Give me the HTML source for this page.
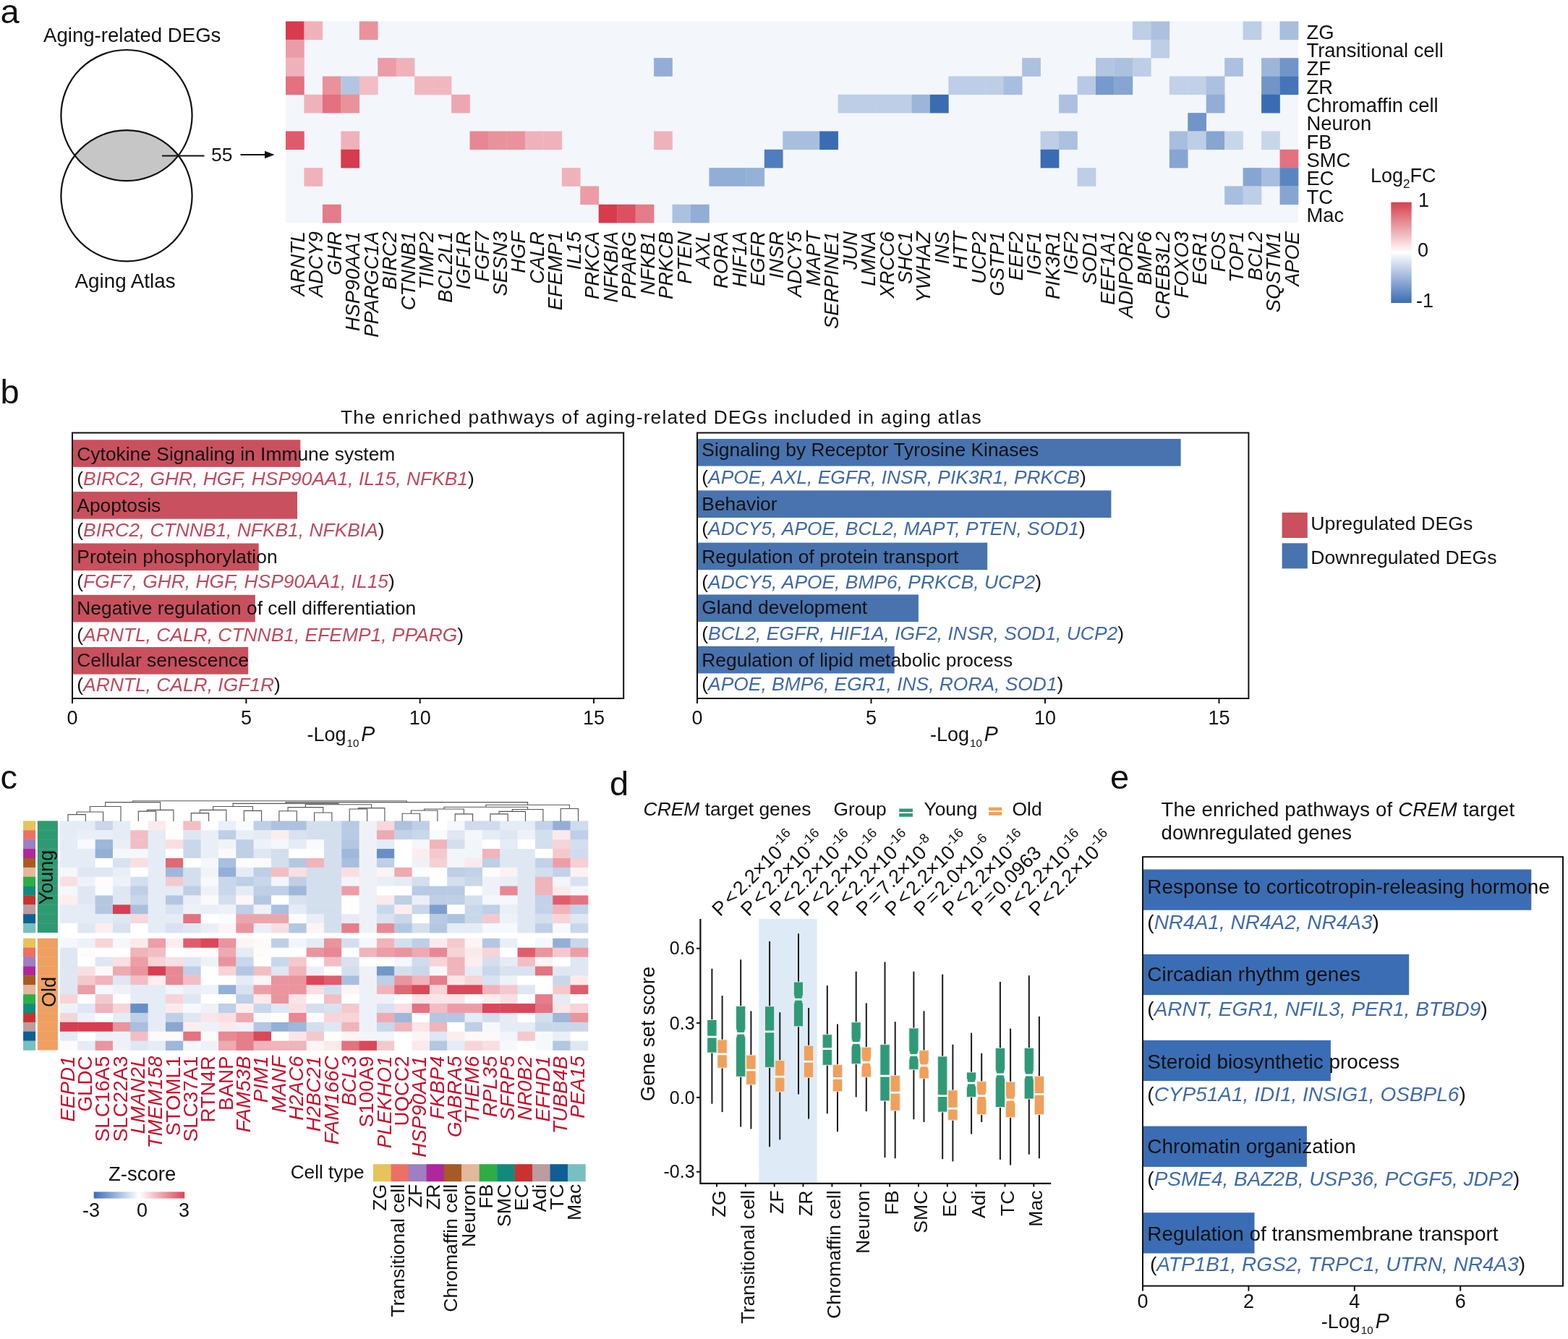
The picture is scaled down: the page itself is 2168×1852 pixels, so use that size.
<!DOCTYPE html>
<html><head><meta charset="utf-8"><title>Aging atlas figure</title>
<style>html,body{margin:0;padding:0;background:#fff;width:2168px;height:1852px;overflow:hidden}</style>
</head><body>
<svg width="2168" height="1852" viewBox="0 0 2168 1852" style="display:block;font-family:'Liberation Sans',Arial,Helvetica,sans-serif"><g fill="#111"><text x="0.5" y="31.8" font-size="47" >a</text>
<text x="0.5" y="558.0" font-size="47" >b</text>
<text x="0.5" y="1091.4" font-size="47" >c</text>
<text x="843.0" y="1100.0" font-size="47" >d</text>
<text x="1535.0" y="1091.0" font-size="47" >e</text>
<text x="60.0" y="58.0" font-size="27.6" >Aging-related DEGs</text>
<text x="103.5" y="398.0" font-size="27.8" >Aging Atlas</text>
<path d="M103.43,215.15 A90.6,90.6 0 0 1 246.57,215.15 A90.6,90.6 0 0 1 103.43,215.15 Z" fill="#c6c6c6"/>
<circle cx="175" cy="159.6" r="90.6" fill="none" stroke="#111" stroke-width="2.2"/>
<circle cx="175" cy="270.7" r="90.6" fill="none" stroke="#111" stroke-width="2.2"/>
<line x1="224" y1="215.5" x2="282.5" y2="215.5" stroke="#111" stroke-width="2"/>
<text x="292.0" y="222.6" font-size="26.5" >55</text>
<line x1="332.5" y1="214" x2="372" y2="214" stroke="#111" stroke-width="2"/>
<polygon points="366,208.8 379.5,214 366,219.2" fill="#111"/>
<rect x="395.0" y="29.5" width="1400.00" height="278.60" fill="#f3f6fa"/>
<rect x="395.00" y="29.50" width="25.75" height="25.63" fill="#d83a4e"/>
<rect x="420.45" y="29.50" width="25.75" height="25.63" fill="#f0b2ba"/>
<rect x="496.82" y="29.50" width="25.75" height="25.63" fill="#ea929c"/>
<rect x="395.00" y="54.83" width="25.75" height="25.63" fill="#ec9ca6"/>
<rect x="395.00" y="80.15" width="25.75" height="25.63" fill="#f0b2ba"/>
<rect x="522.27" y="80.15" width="25.75" height="25.63" fill="#ec9ca6"/>
<rect x="547.73" y="80.15" width="25.75" height="25.63" fill="#f0b2ba"/>
<rect x="395.00" y="105.48" width="25.75" height="25.63" fill="#e3717f"/>
<rect x="445.91" y="105.48" width="25.75" height="25.63" fill="#ea929c"/>
<rect x="471.36" y="105.48" width="25.75" height="25.63" fill="#b2c6e2"/>
<rect x="496.82" y="105.48" width="25.75" height="25.63" fill="#f2bdc4"/>
<rect x="573.18" y="105.48" width="25.75" height="25.63" fill="#f1b7be"/>
<rect x="598.64" y="105.48" width="25.75" height="25.63" fill="#f1b7be"/>
<rect x="420.45" y="130.81" width="25.75" height="25.63" fill="#f0b2ba"/>
<rect x="445.91" y="130.81" width="25.75" height="25.63" fill="#e3717f"/>
<rect x="471.36" y="130.81" width="25.75" height="25.63" fill="#ea929c"/>
<rect x="624.09" y="130.81" width="25.75" height="25.63" fill="#eea7b0"/>
<rect x="395.00" y="181.46" width="25.75" height="25.63" fill="#df5b6b"/>
<rect x="471.36" y="181.46" width="25.75" height="25.63" fill="#f0b2ba"/>
<rect x="649.55" y="181.46" width="25.75" height="25.63" fill="#e78793"/>
<rect x="675.00" y="181.46" width="25.75" height="25.63" fill="#ea929c"/>
<rect x="700.45" y="181.46" width="25.75" height="25.63" fill="#ea929c"/>
<rect x="725.91" y="181.46" width="25.75" height="25.63" fill="#f0b2ba"/>
<rect x="751.36" y="181.46" width="25.75" height="25.63" fill="#f0b2ba"/>
<rect x="471.36" y="206.79" width="25.75" height="25.63" fill="#d83a4e"/>
<rect x="420.45" y="232.12" width="25.75" height="25.63" fill="#f0b2ba"/>
<rect x="776.82" y="232.12" width="25.75" height="25.63" fill="#f0b2ba"/>
<rect x="445.91" y="282.77" width="25.75" height="25.63" fill="#e57c89"/>
<rect x="802.27" y="257.45" width="25.75" height="25.63" fill="#ec9ca6"/>
<rect x="827.73" y="282.77" width="25.75" height="25.63" fill="#d83a4e"/>
<rect x="853.18" y="282.77" width="25.75" height="25.63" fill="#dd5061"/>
<rect x="878.64" y="282.77" width="25.75" height="25.63" fill="#e57c89"/>
<rect x="904.09" y="80.15" width="25.75" height="25.63" fill="#92aed6"/>
<rect x="904.09" y="181.46" width="25.75" height="25.63" fill="#f0b2ba"/>
<rect x="929.55" y="282.77" width="25.75" height="25.63" fill="#acc1df"/>
<rect x="955.00" y="282.77" width="25.75" height="25.63" fill="#92aed6"/>
<rect x="980.45" y="232.12" width="25.75" height="25.63" fill="#92aed6"/>
<rect x="1005.91" y="232.12" width="25.75" height="25.63" fill="#92aed6"/>
<rect x="1031.36" y="232.12" width="25.75" height="25.63" fill="#96b1d7"/>
<rect x="1056.82" y="206.79" width="25.75" height="25.63" fill="#507dbd"/>
<rect x="1082.27" y="181.46" width="25.75" height="25.63" fill="#a7bede"/>
<rect x="1107.73" y="181.46" width="25.75" height="25.63" fill="#a7bede"/>
<rect x="1133.18" y="181.46" width="25.75" height="25.63" fill="#3a6cb4"/>
<rect x="1158.64" y="130.81" width="25.75" height="25.63" fill="#bdcee6"/>
<rect x="1184.09" y="130.81" width="25.75" height="25.63" fill="#bdcee6"/>
<rect x="1209.55" y="130.81" width="25.75" height="25.63" fill="#bdcee6"/>
<rect x="1235.00" y="130.81" width="25.75" height="25.63" fill="#bdcee6"/>
<rect x="1260.45" y="130.81" width="25.75" height="25.63" fill="#9cb6da"/>
<rect x="1285.91" y="130.81" width="25.75" height="25.63" fill="#3a6cb4"/>
<rect x="1311.36" y="105.48" width="25.75" height="25.63" fill="#bdcee6"/>
<rect x="1336.82" y="105.48" width="25.75" height="25.63" fill="#bdcee6"/>
<rect x="1362.27" y="105.48" width="25.75" height="25.63" fill="#bdcee6"/>
<rect x="1387.73" y="105.48" width="25.75" height="25.63" fill="#a7bede"/>
<rect x="1413.18" y="80.15" width="25.75" height="25.63" fill="#acc1df"/>
<rect x="1438.64" y="181.46" width="25.75" height="25.63" fill="#bdcee6"/>
<rect x="1438.64" y="206.79" width="25.75" height="25.63" fill="#3a6cb4"/>
<rect x="1464.09" y="130.81" width="25.75" height="25.63" fill="#acc1df"/>
<rect x="1464.09" y="181.46" width="25.75" height="25.63" fill="#acc1df"/>
<rect x="1489.55" y="105.48" width="25.75" height="25.63" fill="#b7c9e4"/>
<rect x="1489.55" y="232.12" width="25.75" height="25.63" fill="#bdcee6"/>
<rect x="1515.00" y="80.15" width="25.75" height="25.63" fill="#b2c6e2"/>
<rect x="1515.00" y="105.48" width="25.75" height="25.63" fill="#779acc"/>
<rect x="1540.45" y="80.15" width="25.75" height="25.63" fill="#acc1df"/>
<rect x="1540.45" y="105.48" width="25.75" height="25.63" fill="#87a5d1"/>
<rect x="1565.91" y="29.50" width="25.75" height="25.63" fill="#bdcee6"/>
<rect x="1565.91" y="80.15" width="25.75" height="25.63" fill="#bdcee6"/>
<rect x="1591.36" y="29.50" width="25.75" height="25.63" fill="#acc1df"/>
<rect x="1591.36" y="54.83" width="25.75" height="25.63" fill="#bdcee6"/>
<rect x="1616.82" y="105.48" width="25.75" height="25.63" fill="#c2d1e8"/>
<rect x="1616.82" y="181.46" width="25.75" height="25.63" fill="#a7bede"/>
<rect x="1616.82" y="206.79" width="25.75" height="25.63" fill="#87a5d1"/>
<rect x="1642.27" y="105.48" width="25.75" height="25.63" fill="#c2d1e8"/>
<rect x="1642.27" y="156.14" width="25.75" height="25.63" fill="#7195c9"/>
<rect x="1642.27" y="181.46" width="25.75" height="25.63" fill="#bdcee6"/>
<rect x="1667.73" y="105.48" width="25.75" height="25.63" fill="#acc1df"/>
<rect x="1667.73" y="130.81" width="25.75" height="25.63" fill="#92aed6"/>
<rect x="1667.73" y="181.46" width="25.75" height="25.63" fill="#87a5d1"/>
<rect x="1693.18" y="80.15" width="25.75" height="25.63" fill="#acc1df"/>
<rect x="1693.18" y="181.46" width="25.75" height="25.63" fill="#c8d6ea"/>
<rect x="1693.18" y="257.45" width="25.75" height="25.63" fill="#a7bede"/>
<rect x="1718.64" y="29.50" width="25.75" height="25.63" fill="#bdcee6"/>
<rect x="1718.64" y="232.12" width="25.75" height="25.63" fill="#87a5d1"/>
<rect x="1718.64" y="257.45" width="25.75" height="25.63" fill="#bdcee6"/>
<rect x="1744.09" y="80.15" width="25.75" height="25.63" fill="#9cb6da"/>
<rect x="1744.09" y="105.48" width="25.75" height="25.63" fill="#7195c9"/>
<rect x="1744.09" y="130.81" width="25.75" height="25.63" fill="#3a6cb4"/>
<rect x="1744.09" y="181.46" width="25.75" height="25.63" fill="#c8d6ea"/>
<rect x="1744.09" y="232.12" width="25.75" height="25.63" fill="#a7bede"/>
<rect x="1769.55" y="29.50" width="25.75" height="25.63" fill="#a7bede"/>
<rect x="1769.55" y="80.15" width="25.75" height="25.63" fill="#7195c9"/>
<rect x="1769.55" y="105.48" width="25.75" height="25.63" fill="#4574b8"/>
<rect x="1769.55" y="206.79" width="25.75" height="25.63" fill="#e3717f"/>
<rect x="1769.55" y="232.12" width="25.75" height="25.63" fill="#5b85c1"/>
<rect x="1769.55" y="257.45" width="25.75" height="25.63" fill="#87a5d1"/>
<text x="1806.5" y="53.8" font-size="27.4" >ZG</text>
<text x="1806.5" y="79.1" font-size="27.4" >Transitional cell</text>
<text x="1806.5" y="104.4" font-size="27.4" >ZF</text>
<text x="1806.5" y="129.7" font-size="27.4" >ZR</text>
<text x="1806.5" y="155.1" font-size="27.4" >Chromaffin cell</text>
<text x="1806.5" y="180.4" font-size="27.4" >Neuron</text>
<text x="1806.5" y="205.7" font-size="27.4" >FB</text>
<text x="1806.5" y="231.1" font-size="27.4" >SMC</text>
<text x="1806.5" y="256.4" font-size="27.4" >EC</text>
<text x="1806.5" y="281.7" font-size="27.4" >TC</text>
<text x="1806.5" y="307.0" font-size="27.4" >Mac</text>
<text transform="translate(420.9,320) rotate(-90)" text-anchor="end" font-size="27.3" font-style="italic">ARNTL</text><text transform="translate(446.4,320) rotate(-90)" text-anchor="end" font-size="27.3" font-style="italic">ADCY9</text><text transform="translate(471.8,320) rotate(-90)" text-anchor="end" font-size="27.3" font-style="italic">GHR</text><text transform="translate(497.3,320) rotate(-90)" text-anchor="end" font-size="27.3" font-style="italic">HSP90AA1</text><text transform="translate(522.7,320) rotate(-90)" text-anchor="end" font-size="27.3" font-style="italic">PPARGC1A</text><text transform="translate(548.2,320) rotate(-90)" text-anchor="end" font-size="27.3" font-style="italic">BIRC2</text><text transform="translate(573.7,320) rotate(-90)" text-anchor="end" font-size="27.3" font-style="italic">CTNNB1</text><text transform="translate(599.1,320) rotate(-90)" text-anchor="end" font-size="27.3" font-style="italic">TIMP2</text><text transform="translate(624.6,320) rotate(-90)" text-anchor="end" font-size="27.3" font-style="italic">BCL2L1</text><text transform="translate(650.0,320) rotate(-90)" text-anchor="end" font-size="27.3" font-style="italic">IGF1R</text><text transform="translate(675.5,320) rotate(-90)" text-anchor="end" font-size="27.3" font-style="italic">FGF7</text><text transform="translate(700.9,320) rotate(-90)" text-anchor="end" font-size="27.3" font-style="italic">SESN3</text><text transform="translate(726.4,320) rotate(-90)" text-anchor="end" font-size="27.3" font-style="italic">HGF</text><text transform="translate(751.8,320) rotate(-90)" text-anchor="end" font-size="27.3" font-style="italic">CALR</text><text transform="translate(777.3,320) rotate(-90)" text-anchor="end" font-size="27.3" font-style="italic">EFEMP1</text><text transform="translate(802.7,320) rotate(-90)" text-anchor="end" font-size="27.3" font-style="italic">IL15</text><text transform="translate(828.2,320) rotate(-90)" text-anchor="end" font-size="27.3" font-style="italic">PRKCA</text><text transform="translate(853.7,320) rotate(-90)" text-anchor="end" font-size="27.3" font-style="italic">NFKBIA</text><text transform="translate(879.1,320) rotate(-90)" text-anchor="end" font-size="27.3" font-style="italic">PPARG</text><text transform="translate(904.6,320) rotate(-90)" text-anchor="end" font-size="27.3" font-style="italic">NFKB1</text><text transform="translate(930.0,320) rotate(-90)" text-anchor="end" font-size="27.3" font-style="italic">PRKCB</text><text transform="translate(955.5,320) rotate(-90)" text-anchor="end" font-size="27.3" font-style="italic">PTEN</text><text transform="translate(980.9,320) rotate(-90)" text-anchor="end" font-size="27.3" font-style="italic">AXL</text><text transform="translate(1006.4,320) rotate(-90)" text-anchor="end" font-size="27.3" font-style="italic">RORA</text><text transform="translate(1031.8,320) rotate(-90)" text-anchor="end" font-size="27.3" font-style="italic">HIF1A</text><text transform="translate(1057.3,320) rotate(-90)" text-anchor="end" font-size="27.3" font-style="italic">EGFR</text><text transform="translate(1082.7,320) rotate(-90)" text-anchor="end" font-size="27.3" font-style="italic">INSR</text><text transform="translate(1108.2,320) rotate(-90)" text-anchor="end" font-size="27.3" font-style="italic">ADCY5</text><text transform="translate(1133.7,320) rotate(-90)" text-anchor="end" font-size="27.3" font-style="italic">MAPT</text><text transform="translate(1159.1,320) rotate(-90)" text-anchor="end" font-size="27.3" font-style="italic">SERPINE1</text><text transform="translate(1184.6,320) rotate(-90)" text-anchor="end" font-size="27.3" font-style="italic">JUN</text><text transform="translate(1210.0,320) rotate(-90)" text-anchor="end" font-size="27.3" font-style="italic">LMNA</text><text transform="translate(1235.5,320) rotate(-90)" text-anchor="end" font-size="27.3" font-style="italic">XRCC6</text><text transform="translate(1260.9,320) rotate(-90)" text-anchor="end" font-size="27.3" font-style="italic">SHC1</text><text transform="translate(1286.4,320) rotate(-90)" text-anchor="end" font-size="27.3" font-style="italic">YWHAZ</text><text transform="translate(1311.8,320) rotate(-90)" text-anchor="end" font-size="27.3" font-style="italic">INS</text><text transform="translate(1337.3,320) rotate(-90)" text-anchor="end" font-size="27.3" font-style="italic">HTT</text><text transform="translate(1362.7,320) rotate(-90)" text-anchor="end" font-size="27.3" font-style="italic">UCP2</text><text transform="translate(1388.2,320) rotate(-90)" text-anchor="end" font-size="27.3" font-style="italic">GSTP1</text><text transform="translate(1413.7,320) rotate(-90)" text-anchor="end" font-size="27.3" font-style="italic">EEF2</text><text transform="translate(1439.1,320) rotate(-90)" text-anchor="end" font-size="27.3" font-style="italic">IGF1</text><text transform="translate(1464.6,320) rotate(-90)" text-anchor="end" font-size="27.3" font-style="italic">PIK3R1</text><text transform="translate(1490.0,320) rotate(-90)" text-anchor="end" font-size="27.3" font-style="italic">IGF2</text><text transform="translate(1515.5,320) rotate(-90)" text-anchor="end" font-size="27.3" font-style="italic">SOD1</text><text transform="translate(1540.9,320) rotate(-90)" text-anchor="end" font-size="27.3" font-style="italic">EEF1A1</text><text transform="translate(1566.4,320) rotate(-90)" text-anchor="end" font-size="27.3" font-style="italic">ADIPOR2</text><text transform="translate(1591.8,320) rotate(-90)" text-anchor="end" font-size="27.3" font-style="italic">BMP6</text><text transform="translate(1617.3,320) rotate(-90)" text-anchor="end" font-size="27.3" font-style="italic">CREB3L2</text><text transform="translate(1642.7,320) rotate(-90)" text-anchor="end" font-size="27.3" font-style="italic">FOXO3</text><text transform="translate(1668.2,320) rotate(-90)" text-anchor="end" font-size="27.3" font-style="italic">EGR1</text><text transform="translate(1693.7,320) rotate(-90)" text-anchor="end" font-size="27.3" font-style="italic">FOS</text><text transform="translate(1719.1,320) rotate(-90)" text-anchor="end" font-size="27.3" font-style="italic">TOP1</text><text transform="translate(1744.6,320) rotate(-90)" text-anchor="end" font-size="27.3" font-style="italic">BCL2</text><text transform="translate(1770.0,320) rotate(-90)" text-anchor="end" font-size="27.3" font-style="italic">SQSTM1</text><text transform="translate(1795.5,320) rotate(-90)" text-anchor="end" font-size="27.3" font-style="italic">APOE</text>
<text x="1895.0" y="252.0" font-size="27" >Log<tspan font-size="17" dy="8">2</tspan><tspan dy="-8">FC</tspan></text>
<defs><linearGradient id="ga" x1="0" y1="0" x2="0" y2="1"><stop offset="0" stop-color="#d6404e"/><stop offset="0.5" stop-color="#ffffff"/><stop offset="1" stop-color="#3a6cb5"/></linearGradient><linearGradient id="gc" x1="0" y1="0" x2="1" y2="0"><stop offset="0" stop-color="#3b6db5"/><stop offset="0.5" stop-color="#ffffff"/><stop offset="1" stop-color="#d8485a"/></linearGradient></defs>
<rect x="1923.3" y="279.7" width="28.4" height="139.3" fill="url(#ga)"/>
<text x="1961.0" y="286.0" font-size="27" >1</text>
<text x="1960.0" y="355.0" font-size="27" >0</text>
<text x="1958.0" y="425.0" font-size="27" >-1</text>
<text x="471.1" y="586.0" font-size="26.4" style="letter-spacing:1.15px" >The enriched pathways of aging-related DEGs included in aging atlas</text>
<rect x="100" y="608.3" width="315.3" height="37.6" fill="#c9505e"/><rect x="100" y="680.1" width="311.0" height="37.6" fill="#c9505e"/><rect x="100" y="751.5" width="257.7" height="37.6" fill="#c9505e"/><rect x="100" y="822.8" width="252.8" height="37.6" fill="#c9505e"/><rect x="100" y="895.0" width="243.2" height="37.6" fill="#c9505e"/><text x="106.3" y="636.9" font-size="26.4" >Cytokine Signaling in Immune system</text><text x="106.3" y="670.5" font-size="26.4">(<tspan font-style="italic" fill="#bf4a5c">BIRC2, GHR, HGF, HSP90AA1, IL15, NFKB1</tspan>)</text><text x="106.3" y="708.3" font-size="26.4" >Apoptosis</text><text x="106.3" y="742.2" font-size="26.4">(<tspan font-style="italic" fill="#bf4a5c">BIRC2, CTNNB1, NFKB1, NFKBIA</tspan>)</text><text x="106.3" y="778.9" font-size="26.4" >Protein phosphorylation</text><text x="106.3" y="813.0" font-size="26.4">(<tspan font-style="italic" fill="#bf4a5c">FGF7, GHR, HGF, HSP90AA1, IL15</tspan>)</text><text x="106.3" y="849.6" font-size="26.4" >Negative regulation of cell differentiation</text><text x="106.3" y="886.8" font-size="26.4">(<tspan font-style="italic" fill="#bf4a5c">ARNTL, CALR, CTNNB1, EFEMP1, PPARG</tspan>)</text><text x="106.3" y="922.4" font-size="26.4" >Cellular senescence</text><text x="106.3" y="956.2" font-size="26.4">(<tspan font-style="italic" fill="#bf4a5c">ARNTL, CALR, IGF1R</tspan>)</text><rect x="100" y="598.6" width="762.2" height="367.4" fill="none" stroke="#111" stroke-width="2"/><line x1="100.0" y1="966" x2="100.0" y2="973" stroke="#111" stroke-width="2"/><text x="100.0" y="1002.0" font-size="27" text-anchor="middle" >0</text><line x1="340.4" y1="966" x2="340.4" y2="973" stroke="#111" stroke-width="2"/><text x="340.4" y="1002.0" font-size="27" text-anchor="middle" >5</text><line x1="580.7" y1="966" x2="580.7" y2="973" stroke="#111" stroke-width="2"/><text x="580.7" y="1002.0" font-size="27" text-anchor="middle" >10</text><line x1="821.0" y1="966" x2="821.0" y2="973" stroke="#111" stroke-width="2"/><text x="821.0" y="1002.0" font-size="27" text-anchor="middle" >15</text>
<rect x="964" y="607.0" width="668.6" height="37.6" fill="#4873ae"/><rect x="964" y="678.4" width="572.4" height="37.6" fill="#4873ae"/><rect x="964" y="750.6" width="401.2" height="37.6" fill="#4873ae"/><rect x="964" y="822.4" width="305.9" height="37.6" fill="#4873ae"/><rect x="964" y="893.8" width="272.7" height="37.6" fill="#4873ae"/><text x="970.3" y="631.1" font-size="26.4" >Signaling by Receptor Tyrosine Kinases</text><text x="970.3" y="669.3" font-size="26.4">(<tspan font-style="italic" fill="#3f68a8">APOE, AXL, EGFR, INSR, PIK3R1, PRKCB</tspan>)</text><text x="970.3" y="706.2" font-size="26.4" >Behavior</text><text x="970.3" y="740.2" font-size="26.4">(<tspan font-style="italic" fill="#3f68a8">ADCY5, APOE, BCL2, MAPT, PTEN, SOD1</tspan>)</text><text x="970.3" y="778.6" font-size="26.4" >Regulation of protein transport</text><text x="970.3" y="813.6" font-size="26.4">(<tspan font-style="italic" fill="#3f68a8">ADCY5, APOE, BMP6, PRKCB, UCP2</tspan>)</text><text x="970.3" y="848.9" font-size="26.4" >Gland development</text><text x="970.3" y="884.5" font-size="26.4">(<tspan font-style="italic" fill="#3f68a8">BCL2, EGFR, HIF1A, IGF2, INSR, SOD1, UCP2</tspan>)</text><text x="970.3" y="921.5" font-size="26.4" >Regulation of lipid metabolic process</text><text x="970.3" y="955.3" font-size="26.4">(<tspan font-style="italic" fill="#3f68a8">APOE, BMP6, EGR1, INS, RORA, SOD1</tspan>)</text><rect x="964" y="598.6" width="762.4000000000001" height="367.4" fill="none" stroke="#111" stroke-width="2"/><line x1="964.0" y1="966" x2="964.0" y2="973" stroke="#111" stroke-width="2"/><text x="964.0" y="1002.0" font-size="27" text-anchor="middle" >0</text><line x1="1204.5" y1="966" x2="1204.5" y2="973" stroke="#111" stroke-width="2"/><text x="1204.5" y="1002.0" font-size="27" text-anchor="middle" >5</text><line x1="1445.0" y1="966" x2="1445.0" y2="973" stroke="#111" stroke-width="2"/><text x="1445.0" y="1002.0" font-size="27" text-anchor="middle" >10</text><line x1="1685.5" y1="966" x2="1685.5" y2="973" stroke="#111" stroke-width="2"/><text x="1685.5" y="1002.0" font-size="27" text-anchor="middle" >15</text>
<text x="424.5" y="1025" font-size="27">-Log<tspan font-size="15.1" dy="8" dx="1">10</tspan><tspan dy="-8" dx="3" font-style="italic" font-size="28.6">P</tspan></text>
<text x="1286" y="1025" font-size="27">-Log<tspan font-size="15.1" dy="8" dx="1">10</tspan><tspan dy="-8" dx="3" font-style="italic" font-size="28.6">P</tspan></text>
<rect x="1772.6" y="708.9" width="35.2" height="35.1" fill="#c9505e"/>
<rect x="1772.6" y="751.3" width="35.2" height="35.1" fill="#4873ae"/>
<text x="1812.3" y="733.3" font-size="26.7" >Upregulated DEGs</text>
<text x="1812.3" y="780.2" font-size="26.6" >Downregulated DEGs</text>
<rect x="83.00" y="1135.40" width="24.73" height="13.28" fill="#e5ecf5"/><rect x="83.00" y="1297.90" width="24.73" height="13.28" fill="#f4f7fb"/><rect x="107.33" y="1135.40" width="24.73" height="13.28" fill="#e5ecf5"/><rect x="107.33" y="1297.90" width="24.73" height="13.28" fill="#eef2f8"/><rect x="131.66" y="1135.40" width="24.73" height="13.28" fill="#c9d7ea"/><rect x="131.66" y="1297.90" width="24.73" height="13.28" fill="#f6d4d8"/><rect x="155.99" y="1135.40" width="24.73" height="13.28" fill="#e5ecf5"/><rect x="155.99" y="1297.90" width="24.73" height="13.28" fill="#f4f7fb"/><rect x="180.32" y="1135.40" width="24.73" height="13.28" fill="#ffffff"/><rect x="180.32" y="1297.90" width="24.73" height="13.28" fill="#fbeaec"/><rect x="204.65" y="1135.40" width="24.73" height="13.28" fill="#fbeaec"/><rect x="204.65" y="1297.90" width="24.73" height="13.28" fill="#ec9ea7"/><rect x="228.98" y="1135.40" width="24.73" height="13.28" fill="#fefbfb"/><rect x="228.98" y="1297.90" width="24.73" height="13.28" fill="#fceeef"/><rect x="253.31" y="1135.40" width="24.73" height="13.28" fill="#f2bec4"/><rect x="253.31" y="1297.90" width="24.73" height="13.28" fill="#df5e6d"/><rect x="277.64" y="1135.40" width="24.73" height="13.28" fill="#ffffff"/><rect x="277.64" y="1297.90" width="24.73" height="13.28" fill="#da4859"/><rect x="301.97" y="1135.40" width="24.73" height="13.28" fill="#eaeff7"/><rect x="301.97" y="1297.90" width="24.73" height="13.28" fill="#ea949e"/><rect x="326.30" y="1135.40" width="24.73" height="13.28" fill="#f9fafd"/><rect x="326.30" y="1297.90" width="24.73" height="13.28" fill="#fdf4f5"/><rect x="350.63" y="1135.40" width="24.73" height="13.28" fill="#becfe6"/><rect x="350.63" y="1297.90" width="24.73" height="13.28" fill="#fef9f9"/><rect x="374.96" y="1135.40" width="24.73" height="13.28" fill="#adc2df"/><rect x="374.96" y="1297.90" width="24.73" height="13.28" fill="#becfe6"/><rect x="399.29" y="1135.40" width="24.73" height="13.28" fill="#adc2df"/><rect x="399.29" y="1297.90" width="24.73" height="13.28" fill="#f2f5fa"/><rect x="423.62" y="1135.40" width="24.73" height="13.28" fill="#d4dfee"/><rect x="423.62" y="1297.90" width="24.73" height="13.28" fill="#e5ecf5"/><rect x="447.95" y="1135.40" width="24.73" height="13.28" fill="#d4dfee"/><rect x="447.95" y="1297.90" width="24.73" height="13.28" fill="#ea949e"/><rect x="472.28" y="1135.40" width="24.73" height="13.28" fill="#b8cae4"/><rect x="472.28" y="1297.90" width="24.73" height="13.28" fill="#d4dfee"/><rect x="496.61" y="1135.40" width="24.73" height="13.28" fill="#eef2f8"/><rect x="496.61" y="1297.90" width="24.73" height="13.28" fill="#f4f7fb"/><rect x="520.94" y="1135.40" width="24.73" height="13.28" fill="#f7d8dc"/><rect x="520.94" y="1297.90" width="24.73" height="13.28" fill="#f0b4bb"/><rect x="545.27" y="1135.40" width="24.73" height="13.28" fill="#adc2df"/><rect x="545.27" y="1297.90" width="24.73" height="13.28" fill="#d4dfee"/><rect x="569.60" y="1135.40" width="24.73" height="13.28" fill="#becfe6"/><rect x="569.60" y="1297.90" width="24.73" height="13.28" fill="#becfe6"/><rect x="593.93" y="1135.40" width="24.73" height="13.28" fill="#ffffff"/><rect x="593.93" y="1297.90" width="24.73" height="13.28" fill="#fbeaec"/><rect x="618.26" y="1135.40" width="24.73" height="13.28" fill="#f4f7fb"/><rect x="618.26" y="1297.90" width="24.73" height="13.28" fill="#f4c9ce"/><rect x="642.59" y="1135.40" width="24.73" height="13.28" fill="#d0dced"/><rect x="642.59" y="1297.90" width="24.73" height="13.28" fill="#fdf4f5"/><rect x="666.92" y="1135.40" width="24.73" height="13.28" fill="#d0dced"/><rect x="666.92" y="1297.90" width="24.73" height="13.28" fill="#b4c7e2"/><rect x="691.25" y="1135.40" width="24.73" height="13.28" fill="#e5ecf5"/><rect x="691.25" y="1297.90" width="24.73" height="13.28" fill="#eaeff7"/><rect x="715.58" y="1135.40" width="24.73" height="13.28" fill="#e5ecf5"/><rect x="715.58" y="1297.90" width="24.73" height="13.28" fill="#ffffff"/><rect x="739.91" y="1135.40" width="24.73" height="13.28" fill="#c3d2e8"/><rect x="739.91" y="1297.90" width="24.73" height="13.28" fill="#f4f7fb"/><rect x="764.24" y="1135.40" width="24.73" height="13.28" fill="#94afd6"/><rect x="764.24" y="1297.90" width="24.73" height="13.28" fill="#94afd6"/><rect x="788.57" y="1135.40" width="24.73" height="13.28" fill="#d0dced"/><rect x="788.57" y="1297.90" width="24.73" height="13.28" fill="#c9d7ea"/><rect x="83.00" y="1148.28" width="24.73" height="13.28" fill="#e5ecf5"/><rect x="83.00" y="1310.78" width="24.73" height="13.28" fill="#dfe7f3"/><rect x="107.33" y="1148.28" width="24.73" height="13.28" fill="#eaeff7"/><rect x="107.33" y="1310.78" width="24.73" height="13.28" fill="#fefbfb"/><rect x="131.66" y="1148.28" width="24.73" height="13.28" fill="#eaeff7"/><rect x="131.66" y="1310.78" width="24.73" height="13.28" fill="#ffffff"/><rect x="155.99" y="1148.28" width="24.73" height="13.28" fill="#e5ecf5"/><rect x="155.99" y="1310.78" width="24.73" height="13.28" fill="#ffffff"/><rect x="180.32" y="1148.28" width="24.73" height="13.28" fill="#f2bec4"/><rect x="180.32" y="1310.78" width="24.73" height="13.28" fill="#f0b4bb"/><rect x="204.65" y="1148.28" width="24.73" height="13.28" fill="#e5ecf5"/><rect x="204.65" y="1310.78" width="24.73" height="13.28" fill="#f2bec4"/><rect x="228.98" y="1148.28" width="24.73" height="13.28" fill="#ffffff"/><rect x="228.98" y="1310.78" width="24.73" height="13.28" fill="#ffffff"/><rect x="253.31" y="1148.28" width="24.73" height="13.28" fill="#dfe7f3"/><rect x="253.31" y="1310.78" width="24.73" height="13.28" fill="#fefbfb"/><rect x="277.64" y="1148.28" width="24.73" height="13.28" fill="#eaeff7"/><rect x="277.64" y="1310.78" width="24.73" height="13.28" fill="#fefbfb"/><rect x="301.97" y="1148.28" width="24.73" height="13.28" fill="#becfe6"/><rect x="301.97" y="1310.78" width="24.73" height="13.28" fill="#eea9b1"/><rect x="326.30" y="1148.28" width="24.73" height="13.28" fill="#eaeff7"/><rect x="326.30" y="1310.78" width="24.73" height="13.28" fill="#e5ecf5"/><rect x="350.63" y="1148.28" width="24.73" height="13.28" fill="#e5ecf5"/><rect x="350.63" y="1310.78" width="24.73" height="13.28" fill="#fefbfb"/><rect x="374.96" y="1148.28" width="24.73" height="13.28" fill="#fceeef"/><rect x="374.96" y="1310.78" width="24.73" height="13.28" fill="#ffffff"/><rect x="399.29" y="1148.28" width="24.73" height="13.28" fill="#d8e2f0"/><rect x="399.29" y="1310.78" width="24.73" height="13.28" fill="#ffffff"/><rect x="423.62" y="1148.28" width="24.73" height="13.28" fill="#d4dfee"/><rect x="423.62" y="1310.78" width="24.73" height="13.28" fill="#ea949e"/><rect x="447.95" y="1148.28" width="24.73" height="13.28" fill="#d4dfee"/><rect x="447.95" y="1310.78" width="24.73" height="13.28" fill="#e78994"/><rect x="472.28" y="1148.28" width="24.73" height="13.28" fill="#b8cae4"/><rect x="472.28" y="1310.78" width="24.73" height="13.28" fill="#ffffff"/><rect x="496.61" y="1148.28" width="24.73" height="13.28" fill="#eef2f8"/><rect x="496.61" y="1310.78" width="24.73" height="13.28" fill="#f0b4bb"/><rect x="520.94" y="1148.28" width="24.73" height="13.28" fill="#eea9b1"/><rect x="520.94" y="1310.78" width="24.73" height="13.28" fill="#ec9ea7"/><rect x="545.27" y="1148.28" width="24.73" height="13.28" fill="#c3d2e8"/><rect x="545.27" y="1310.78" width="24.73" height="13.28" fill="#ea949e"/><rect x="569.60" y="1148.28" width="24.73" height="13.28" fill="#c9d7ea"/><rect x="569.60" y="1310.78" width="24.73" height="13.28" fill="#eea9b1"/><rect x="593.93" y="1148.28" width="24.73" height="13.28" fill="#f9fafd"/><rect x="593.93" y="1310.78" width="24.73" height="13.28" fill="#e78994"/><rect x="618.26" y="1148.28" width="24.73" height="13.28" fill="#dfe7f3"/><rect x="618.26" y="1310.78" width="24.73" height="13.28" fill="#f6d4d8"/><rect x="642.59" y="1148.28" width="24.73" height="13.28" fill="#f4f7fb"/><rect x="642.59" y="1310.78" width="24.73" height="13.28" fill="#fbeaec"/><rect x="666.92" y="1148.28" width="24.73" height="13.28" fill="#e5ecf5"/><rect x="666.92" y="1310.78" width="24.73" height="13.28" fill="#f6d4d8"/><rect x="691.25" y="1148.28" width="24.73" height="13.28" fill="#dfe7f3"/><rect x="691.25" y="1310.78" width="24.73" height="13.28" fill="#ffffff"/><rect x="715.58" y="1148.28" width="24.73" height="13.28" fill="#eef2f8"/><rect x="715.58" y="1310.78" width="24.73" height="13.28" fill="#df5e6d"/><rect x="739.91" y="1148.28" width="24.73" height="13.28" fill="#d4dfee"/><rect x="739.91" y="1310.78" width="24.73" height="13.28" fill="#ea949e"/><rect x="764.24" y="1148.28" width="24.73" height="13.28" fill="#fbeaec"/><rect x="764.24" y="1310.78" width="24.73" height="13.28" fill="#f4c9ce"/><rect x="788.57" y="1148.28" width="24.73" height="13.28" fill="#becfe6"/><rect x="788.57" y="1310.78" width="24.73" height="13.28" fill="#ec9ea7"/><rect x="83.00" y="1161.17" width="24.73" height="13.28" fill="#e5ecf5"/><rect x="83.00" y="1323.67" width="24.73" height="13.28" fill="#dfe7f3"/><rect x="107.33" y="1161.17" width="24.73" height="13.28" fill="#f9fafd"/><rect x="107.33" y="1323.67" width="24.73" height="13.28" fill="#ffffff"/><rect x="131.66" y="1161.17" width="24.73" height="13.28" fill="#9eb7da"/><rect x="131.66" y="1323.67" width="24.73" height="13.28" fill="#dfe7f3"/><rect x="155.99" y="1161.17" width="24.73" height="13.28" fill="#eaeff7"/><rect x="155.99" y="1323.67" width="24.73" height="13.28" fill="#f9dfe2"/><rect x="180.32" y="1161.17" width="24.73" height="13.28" fill="#f2bec4"/><rect x="180.32" y="1323.67" width="24.73" height="13.28" fill="#ec9ea7"/><rect x="204.65" y="1161.17" width="24.73" height="13.28" fill="#e5ecf5"/><rect x="204.65" y="1323.67" width="24.73" height="13.28" fill="#f6d4d8"/><rect x="228.98" y="1161.17" width="24.73" height="13.28" fill="#f9dfe2"/><rect x="228.98" y="1323.67" width="24.73" height="13.28" fill="#f9dfe2"/><rect x="253.31" y="1161.17" width="24.73" height="13.28" fill="#c9d7ea"/><rect x="253.31" y="1323.67" width="24.73" height="13.28" fill="#dfe7f3"/><rect x="277.64" y="1161.17" width="24.73" height="13.28" fill="#eaeff7"/><rect x="277.64" y="1323.67" width="24.73" height="13.28" fill="#eef2f8"/><rect x="301.97" y="1161.17" width="24.73" height="13.28" fill="#f0f4f9"/><rect x="301.97" y="1323.67" width="24.73" height="13.28" fill="#ea949e"/><rect x="326.30" y="1161.17" width="24.73" height="13.28" fill="#becfe6"/><rect x="326.30" y="1323.67" width="24.73" height="13.28" fill="#c9d7ea"/><rect x="350.63" y="1161.17" width="24.73" height="13.28" fill="#eef2f8"/><rect x="350.63" y="1323.67" width="24.73" height="13.28" fill="#ffffff"/><rect x="374.96" y="1161.17" width="24.73" height="13.28" fill="#f4f7fb"/><rect x="374.96" y="1323.67" width="24.73" height="13.28" fill="#c9d7ea"/><rect x="399.29" y="1161.17" width="24.73" height="13.28" fill="#e5ecf5"/><rect x="399.29" y="1323.67" width="24.73" height="13.28" fill="#f4c9ce"/><rect x="423.62" y="1161.17" width="24.73" height="13.28" fill="#f9fafd"/><rect x="423.62" y="1323.67" width="24.73" height="13.28" fill="#ffffff"/><rect x="447.95" y="1161.17" width="24.73" height="13.28" fill="#d4dfee"/><rect x="447.95" y="1323.67" width="24.73" height="13.28" fill="#f2bec4"/><rect x="472.28" y="1161.17" width="24.73" height="13.28" fill="#b4c7e2"/><rect x="472.28" y="1323.67" width="24.73" height="13.28" fill="#d8e2f0"/><rect x="496.61" y="1161.17" width="24.73" height="13.28" fill="#eef2f8"/><rect x="496.61" y="1323.67" width="24.73" height="13.28" fill="#ffffff"/><rect x="520.94" y="1161.17" width="24.73" height="13.28" fill="#e5ecf5"/><rect x="520.94" y="1323.67" width="24.73" height="13.28" fill="#ffffff"/><rect x="545.27" y="1161.17" width="24.73" height="13.28" fill="#ffffff"/><rect x="545.27" y="1323.67" width="24.73" height="13.28" fill="#f4f7fb"/><rect x="569.60" y="1161.17" width="24.73" height="13.28" fill="#f4f7fb"/><rect x="569.60" y="1323.67" width="24.73" height="13.28" fill="#d0dced"/><rect x="593.93" y="1161.17" width="24.73" height="13.28" fill="#f0b4bb"/><rect x="593.93" y="1323.67" width="24.73" height="13.28" fill="#f6d4d8"/><rect x="618.26" y="1161.17" width="24.73" height="13.28" fill="#d4dfee"/><rect x="618.26" y="1323.67" width="24.73" height="13.28" fill="#f0b4bb"/><rect x="642.59" y="1161.17" width="24.73" height="13.28" fill="#f2f5fa"/><rect x="642.59" y="1323.67" width="24.73" height="13.28" fill="#fceeef"/><rect x="666.92" y="1161.17" width="24.73" height="13.28" fill="#ffffff"/><rect x="666.92" y="1323.67" width="24.73" height="13.28" fill="#d4dfee"/><rect x="691.25" y="1161.17" width="24.73" height="13.28" fill="#e5ecf5"/><rect x="691.25" y="1323.67" width="24.73" height="13.28" fill="#e5ecf5"/><rect x="715.58" y="1161.17" width="24.73" height="13.28" fill="#ffffff"/><rect x="715.58" y="1323.67" width="24.73" height="13.28" fill="#f2bec4"/><rect x="739.91" y="1161.17" width="24.73" height="13.28" fill="#d4dfee"/><rect x="739.91" y="1323.67" width="24.73" height="13.28" fill="#fdf4f5"/><rect x="764.24" y="1161.17" width="24.73" height="13.28" fill="#f6d4d8"/><rect x="764.24" y="1323.67" width="24.73" height="13.28" fill="#ffffff"/><rect x="788.57" y="1161.17" width="24.73" height="13.28" fill="#d4dfee"/><rect x="788.57" y="1323.67" width="24.73" height="13.28" fill="#dfe7f3"/><rect x="83.00" y="1174.05" width="24.73" height="13.28" fill="#e5ecf5"/><rect x="83.00" y="1336.55" width="24.73" height="13.28" fill="#dfe7f3"/><rect x="107.33" y="1174.05" width="24.73" height="13.28" fill="#e5ecf5"/><rect x="107.33" y="1336.55" width="24.73" height="13.28" fill="#f9dfe2"/><rect x="131.66" y="1174.05" width="24.73" height="13.28" fill="#94afd6"/><rect x="131.66" y="1336.55" width="24.73" height="13.28" fill="#fef9f9"/><rect x="155.99" y="1174.05" width="24.73" height="13.28" fill="#f4f7fb"/><rect x="155.99" y="1336.55" width="24.73" height="13.28" fill="#eea9b1"/><rect x="180.32" y="1174.05" width="24.73" height="13.28" fill="#f4f7fb"/><rect x="180.32" y="1336.55" width="24.73" height="13.28" fill="#ea949e"/><rect x="204.65" y="1174.05" width="24.73" height="13.28" fill="#e5ecf5"/><rect x="204.65" y="1336.55" width="24.73" height="13.28" fill="#d83e50"/><rect x="228.98" y="1174.05" width="24.73" height="13.28" fill="#ffffff"/><rect x="228.98" y="1336.55" width="24.73" height="13.28" fill="#e78994"/><rect x="253.31" y="1174.05" width="24.73" height="13.28" fill="#c9d7ea"/><rect x="253.31" y="1336.55" width="24.73" height="13.28" fill="#becfe6"/><rect x="277.64" y="1174.05" width="24.73" height="13.28" fill="#eaeff7"/><rect x="277.64" y="1336.55" width="24.73" height="13.28" fill="#ffffff"/><rect x="301.97" y="1174.05" width="24.73" height="13.28" fill="#f9fafd"/><rect x="301.97" y="1336.55" width="24.73" height="13.28" fill="#f6d4d8"/><rect x="326.30" y="1174.05" width="24.73" height="13.28" fill="#becfe6"/><rect x="326.30" y="1336.55" width="24.73" height="13.28" fill="#b4c7e2"/><rect x="350.63" y="1174.05" width="24.73" height="13.28" fill="#dfe7f3"/><rect x="350.63" y="1336.55" width="24.73" height="13.28" fill="#f2bec4"/><rect x="374.96" y="1174.05" width="24.73" height="13.28" fill="#d4dfee"/><rect x="374.96" y="1336.55" width="24.73" height="13.28" fill="#dfe7f3"/><rect x="399.29" y="1174.05" width="24.73" height="13.28" fill="#ffffff"/><rect x="399.29" y="1336.55" width="24.73" height="13.28" fill="#f0b4bb"/><rect x="423.62" y="1174.05" width="24.73" height="13.28" fill="#ffffff"/><rect x="423.62" y="1336.55" width="24.73" height="13.28" fill="#eaeff7"/><rect x="447.95" y="1174.05" width="24.73" height="13.28" fill="#d4dfee"/><rect x="447.95" y="1336.55" width="24.73" height="13.28" fill="#ffffff"/><rect x="472.28" y="1174.05" width="24.73" height="13.28" fill="#9eb7da"/><rect x="472.28" y="1336.55" width="24.73" height="13.28" fill="#d4dfee"/><rect x="496.61" y="1174.05" width="24.73" height="13.28" fill="#eef2f8"/><rect x="496.61" y="1336.55" width="24.73" height="13.28" fill="#eef2f8"/><rect x="520.94" y="1174.05" width="24.73" height="13.28" fill="#688fc5"/><rect x="520.94" y="1336.55" width="24.73" height="13.28" fill="#7397c9"/><rect x="545.27" y="1174.05" width="24.73" height="13.28" fill="#ffffff"/><rect x="545.27" y="1336.55" width="24.73" height="13.28" fill="#d4dfee"/><rect x="569.60" y="1174.05" width="24.73" height="13.28" fill="#fceeef"/><rect x="569.60" y="1336.55" width="24.73" height="13.28" fill="#c9d7ea"/><rect x="593.93" y="1174.05" width="24.73" height="13.28" fill="#f4c9ce"/><rect x="593.93" y="1336.55" width="24.73" height="13.28" fill="#f4f7fb"/><rect x="618.26" y="1174.05" width="24.73" height="13.28" fill="#f2f5fa"/><rect x="618.26" y="1336.55" width="24.73" height="13.28" fill="#f0b4bb"/><rect x="642.59" y="1174.05" width="24.73" height="13.28" fill="#f2f5fa"/><rect x="642.59" y="1336.55" width="24.73" height="13.28" fill="#e5ecf5"/><rect x="666.92" y="1174.05" width="24.73" height="13.28" fill="#f0b4bb"/><rect x="666.92" y="1336.55" width="24.73" height="13.28" fill="#c9d7ea"/><rect x="691.25" y="1174.05" width="24.73" height="13.28" fill="#dfe7f3"/><rect x="691.25" y="1336.55" width="24.73" height="13.28" fill="#d8e2f0"/><rect x="715.58" y="1174.05" width="24.73" height="13.28" fill="#dfe7f3"/><rect x="715.58" y="1336.55" width="24.73" height="13.28" fill="#d8e2f0"/><rect x="739.91" y="1174.05" width="24.73" height="13.28" fill="#ffffff"/><rect x="739.91" y="1336.55" width="24.73" height="13.28" fill="#e37380"/><rect x="764.24" y="1174.05" width="24.73" height="13.28" fill="#f4c9ce"/><rect x="764.24" y="1336.55" width="24.73" height="13.28" fill="#dfe7f3"/><rect x="788.57" y="1174.05" width="24.73" height="13.28" fill="#d0dced"/><rect x="788.57" y="1336.55" width="24.73" height="13.28" fill="#dfe7f3"/><rect x="83.00" y="1186.93" width="24.73" height="13.28" fill="#e5ecf5"/><rect x="83.00" y="1349.43" width="24.73" height="13.28" fill="#dfe7f3"/><rect x="107.33" y="1186.93" width="24.73" height="13.28" fill="#e5ecf5"/><rect x="107.33" y="1349.43" width="24.73" height="13.28" fill="#f4c9ce"/><rect x="131.66" y="1186.93" width="24.73" height="13.28" fill="#ffffff"/><rect x="131.66" y="1349.43" width="24.73" height="13.28" fill="#f0b4bb"/><rect x="155.99" y="1186.93" width="24.73" height="13.28" fill="#d8e2f0"/><rect x="155.99" y="1349.43" width="24.73" height="13.28" fill="#dfe7f3"/><rect x="180.32" y="1186.93" width="24.73" height="13.28" fill="#f9dfe2"/><rect x="180.32" y="1349.43" width="24.73" height="13.28" fill="#f2bec4"/><rect x="204.65" y="1186.93" width="24.73" height="13.28" fill="#e5ecf5"/><rect x="204.65" y="1349.43" width="24.73" height="13.28" fill="#fceeef"/><rect x="228.98" y="1186.93" width="24.73" height="13.28" fill="#e16876"/><rect x="228.98" y="1349.43" width="24.73" height="13.28" fill="#e78994"/><rect x="253.31" y="1186.93" width="24.73" height="13.28" fill="#ffffff"/><rect x="253.31" y="1349.43" width="24.73" height="13.28" fill="#f2bec4"/><rect x="277.64" y="1186.93" width="24.73" height="13.28" fill="#f4f7fb"/><rect x="277.64" y="1349.43" width="24.73" height="13.28" fill="#ffffff"/><rect x="301.97" y="1186.93" width="24.73" height="13.28" fill="#a9bfde"/><rect x="301.97" y="1349.43" width="24.73" height="13.28" fill="#ffffff"/><rect x="326.30" y="1186.93" width="24.73" height="13.28" fill="#fbfcfd"/><rect x="326.30" y="1349.43" width="24.73" height="13.28" fill="#e5ecf5"/><rect x="350.63" y="1186.93" width="24.73" height="13.28" fill="#f9fafd"/><rect x="350.63" y="1349.43" width="24.73" height="13.28" fill="#fdf4f5"/><rect x="374.96" y="1186.93" width="24.73" height="13.28" fill="#d4dfee"/><rect x="374.96" y="1349.43" width="24.73" height="13.28" fill="#ea949e"/><rect x="399.29" y="1186.93" width="24.73" height="13.28" fill="#b4c7e2"/><rect x="399.29" y="1349.43" width="24.73" height="13.28" fill="#ea949e"/><rect x="423.62" y="1186.93" width="24.73" height="13.28" fill="#f0b4bb"/><rect x="423.62" y="1349.43" width="24.73" height="13.28" fill="#da4859"/><rect x="447.95" y="1186.93" width="24.73" height="13.28" fill="#d4dfee"/><rect x="447.95" y="1349.43" width="24.73" height="13.28" fill="#df5e6d"/><rect x="472.28" y="1186.93" width="24.73" height="13.28" fill="#a9bfde"/><rect x="472.28" y="1349.43" width="24.73" height="13.28" fill="#a9bfde"/><rect x="496.61" y="1186.93" width="24.73" height="13.28" fill="#eef2f8"/><rect x="496.61" y="1349.43" width="24.73" height="13.28" fill="#eef2f8"/><rect x="520.94" y="1186.93" width="24.73" height="13.28" fill="#becfe6"/><rect x="520.94" y="1349.43" width="24.73" height="13.28" fill="#becfe6"/><rect x="545.27" y="1186.93" width="24.73" height="13.28" fill="#ffffff"/><rect x="545.27" y="1349.43" width="24.73" height="13.28" fill="#ea949e"/><rect x="569.60" y="1186.93" width="24.73" height="13.28" fill="#eef2f8"/><rect x="569.60" y="1349.43" width="24.73" height="13.28" fill="#f0b4bb"/><rect x="593.93" y="1186.93" width="24.73" height="13.28" fill="#f6d0d4"/><rect x="593.93" y="1349.43" width="24.73" height="13.28" fill="#e57e8a"/><rect x="618.26" y="1186.93" width="24.73" height="13.28" fill="#f2f5fa"/><rect x="618.26" y="1349.43" width="24.73" height="13.28" fill="#fae5e8"/><rect x="642.59" y="1186.93" width="24.73" height="13.28" fill="#fbeaec"/><rect x="642.59" y="1349.43" width="24.73" height="13.28" fill="#f6d4d8"/><rect x="666.92" y="1186.93" width="24.73" height="13.28" fill="#becfe6"/><rect x="666.92" y="1349.43" width="24.73" height="13.28" fill="#d8e2f0"/><rect x="691.25" y="1186.93" width="24.73" height="13.28" fill="#dfe7f3"/><rect x="691.25" y="1349.43" width="24.73" height="13.28" fill="#eef2f8"/><rect x="715.58" y="1186.93" width="24.73" height="13.28" fill="#dfe7f3"/><rect x="715.58" y="1349.43" width="24.73" height="13.28" fill="#ffffff"/><rect x="739.91" y="1186.93" width="24.73" height="13.28" fill="#c3d2e8"/><rect x="739.91" y="1349.43" width="24.73" height="13.28" fill="#ffffff"/><rect x="764.24" y="1186.93" width="24.73" height="13.28" fill="#ec9ea7"/><rect x="764.24" y="1349.43" width="24.73" height="13.28" fill="#c9d7ea"/><rect x="788.57" y="1186.93" width="24.73" height="13.28" fill="#f6d0d4"/><rect x="788.57" y="1349.43" width="24.73" height="13.28" fill="#fbeaec"/><rect x="83.00" y="1199.82" width="24.73" height="13.28" fill="#f4f7fb"/><rect x="83.00" y="1362.32" width="24.73" height="13.28" fill="#dfe7f3"/><rect x="107.33" y="1199.82" width="24.73" height="13.28" fill="#dfe7f3"/><rect x="107.33" y="1362.32" width="24.73" height="13.28" fill="#ec9ea7"/><rect x="131.66" y="1199.82" width="24.73" height="13.28" fill="#dfe7f3"/><rect x="131.66" y="1362.32" width="24.73" height="13.28" fill="#f4f7fb"/><rect x="155.99" y="1199.82" width="24.73" height="13.28" fill="#eaeff7"/><rect x="155.99" y="1362.32" width="24.73" height="13.28" fill="#eef2f8"/><rect x="180.32" y="1199.82" width="24.73" height="13.28" fill="#ffffff"/><rect x="180.32" y="1362.32" width="24.73" height="13.28" fill="#e5ecf5"/><rect x="204.65" y="1199.82" width="24.73" height="13.28" fill="#e5ecf5"/><rect x="204.65" y="1362.32" width="24.73" height="13.28" fill="#e5ecf5"/><rect x="228.98" y="1199.82" width="24.73" height="13.28" fill="#9eb7da"/><rect x="228.98" y="1362.32" width="24.73" height="13.28" fill="#f2f5fa"/><rect x="253.31" y="1199.82" width="24.73" height="13.28" fill="#d4dfee"/><rect x="253.31" y="1362.32" width="24.73" height="13.28" fill="#eaeff7"/><rect x="277.64" y="1199.82" width="24.73" height="13.28" fill="#f0f4f9"/><rect x="277.64" y="1362.32" width="24.73" height="13.28" fill="#eef2f8"/><rect x="301.97" y="1199.82" width="24.73" height="13.28" fill="#94afd6"/><rect x="301.97" y="1362.32" width="24.73" height="13.28" fill="#94afd6"/><rect x="326.30" y="1199.82" width="24.73" height="13.28" fill="#e5ecf5"/><rect x="326.30" y="1362.32" width="24.73" height="13.28" fill="#d8e2f0"/><rect x="350.63" y="1199.82" width="24.73" height="13.28" fill="#becfe6"/><rect x="350.63" y="1362.32" width="24.73" height="13.28" fill="#ec9ea7"/><rect x="374.96" y="1199.82" width="24.73" height="13.28" fill="#f2bec4"/><rect x="374.96" y="1362.32" width="24.73" height="13.28" fill="#ea949e"/><rect x="399.29" y="1199.82" width="24.73" height="13.28" fill="#f9dfe2"/><rect x="399.29" y="1362.32" width="24.73" height="13.28" fill="#ea949e"/><rect x="423.62" y="1199.82" width="24.73" height="13.28" fill="#d4dfee"/><rect x="423.62" y="1362.32" width="24.73" height="13.28" fill="#f9dfe2"/><rect x="447.95" y="1199.82" width="24.73" height="13.28" fill="#d4dfee"/><rect x="447.95" y="1362.32" width="24.73" height="13.28" fill="#d4dfee"/><rect x="472.28" y="1199.82" width="24.73" height="13.28" fill="#f9dfe2"/><rect x="472.28" y="1362.32" width="24.73" height="13.28" fill="#fdf4f5"/><rect x="496.61" y="1199.82" width="24.73" height="13.28" fill="#eef2f8"/><rect x="496.61" y="1362.32" width="24.73" height="13.28" fill="#eef2f8"/><rect x="520.94" y="1199.82" width="24.73" height="13.28" fill="#fdf4f5"/><rect x="520.94" y="1362.32" width="24.73" height="13.28" fill="#f0b4bb"/><rect x="545.27" y="1199.82" width="24.73" height="13.28" fill="#eea9b1"/><rect x="545.27" y="1362.32" width="24.73" height="13.28" fill="#e16876"/><rect x="569.60" y="1199.82" width="24.73" height="13.28" fill="#fbfcfd"/><rect x="569.60" y="1362.32" width="24.73" height="13.28" fill="#da4859"/><rect x="593.93" y="1199.82" width="24.73" height="13.28" fill="#ffffff"/><rect x="593.93" y="1362.32" width="24.73" height="13.28" fill="#f6d4d8"/><rect x="618.26" y="1199.82" width="24.73" height="13.28" fill="#becfe6"/><rect x="618.26" y="1362.32" width="24.73" height="13.28" fill="#da4859"/><rect x="642.59" y="1199.82" width="24.73" height="13.28" fill="#c3d2e8"/><rect x="642.59" y="1362.32" width="24.73" height="13.28" fill="#da4859"/><rect x="666.92" y="1199.82" width="24.73" height="13.28" fill="#fefbfb"/><rect x="666.92" y="1362.32" width="24.73" height="13.28" fill="#f0b4bb"/><rect x="691.25" y="1199.82" width="24.73" height="13.28" fill="#fcf2f3"/><rect x="691.25" y="1362.32" width="24.73" height="13.28" fill="#f4c9ce"/><rect x="715.58" y="1199.82" width="24.73" height="13.28" fill="#dfe7f3"/><rect x="715.58" y="1362.32" width="24.73" height="13.28" fill="#dfe7f3"/><rect x="739.91" y="1199.82" width="24.73" height="13.28" fill="#d4dfee"/><rect x="739.91" y="1362.32" width="24.73" height="13.28" fill="#ffffff"/><rect x="764.24" y="1199.82" width="24.73" height="13.28" fill="#c3d2e8"/><rect x="764.24" y="1362.32" width="24.73" height="13.28" fill="#f4c9ce"/><rect x="788.57" y="1199.82" width="24.73" height="13.28" fill="#fcf2f3"/><rect x="788.57" y="1362.32" width="24.73" height="13.28" fill="#df5e6d"/><rect x="83.00" y="1212.70" width="24.73" height="13.28" fill="#f9dfe2"/><rect x="83.00" y="1375.20" width="24.73" height="13.28" fill="#f6d4d8"/><rect x="107.33" y="1212.70" width="24.73" height="13.28" fill="#eef2f8"/><rect x="107.33" y="1375.20" width="24.73" height="13.28" fill="#ffffff"/><rect x="131.66" y="1212.70" width="24.73" height="13.28" fill="#fefbfb"/><rect x="131.66" y="1375.20" width="24.73" height="13.28" fill="#f4c9ce"/><rect x="155.99" y="1212.70" width="24.73" height="13.28" fill="#eef2f8"/><rect x="155.99" y="1375.20" width="24.73" height="13.28" fill="#ffffff"/><rect x="180.32" y="1212.70" width="24.73" height="13.28" fill="#d4dfee"/><rect x="180.32" y="1375.20" width="24.73" height="13.28" fill="#e5ecf5"/><rect x="204.65" y="1212.70" width="24.73" height="13.28" fill="#e5ecf5"/><rect x="204.65" y="1375.20" width="24.73" height="13.28" fill="#e5ecf5"/><rect x="228.98" y="1212.70" width="24.73" height="13.28" fill="#f4c9ce"/><rect x="228.98" y="1375.20" width="24.73" height="13.28" fill="#f6d4d8"/><rect x="253.31" y="1212.70" width="24.73" height="13.28" fill="#d4dfee"/><rect x="253.31" y="1375.20" width="24.73" height="13.28" fill="#dfe7f3"/><rect x="277.64" y="1212.70" width="24.73" height="13.28" fill="#f6f9fc"/><rect x="277.64" y="1375.20" width="24.73" height="13.28" fill="#ffffff"/><rect x="301.97" y="1212.70" width="24.73" height="13.28" fill="#c9d7ea"/><rect x="301.97" y="1375.20" width="24.73" height="13.28" fill="#ffffff"/><rect x="326.30" y="1212.70" width="24.73" height="13.28" fill="#becfe6"/><rect x="326.30" y="1375.20" width="24.73" height="13.28" fill="#becfe6"/><rect x="350.63" y="1212.70" width="24.73" height="13.28" fill="#c9d7ea"/><rect x="350.63" y="1375.20" width="24.73" height="13.28" fill="#fbeaec"/><rect x="374.96" y="1212.70" width="24.73" height="13.28" fill="#f2f5fa"/><rect x="374.96" y="1375.20" width="24.73" height="13.28" fill="#ea949e"/><rect x="399.29" y="1212.70" width="24.73" height="13.28" fill="#becfe6"/><rect x="399.29" y="1375.20" width="24.73" height="13.28" fill="#fae5e8"/><rect x="423.62" y="1212.70" width="24.73" height="13.28" fill="#d4dfee"/><rect x="423.62" y="1375.20" width="24.73" height="13.28" fill="#ffffff"/><rect x="447.95" y="1212.70" width="24.73" height="13.28" fill="#d4dfee"/><rect x="447.95" y="1375.20" width="24.73" height="13.28" fill="#f2bec4"/><rect x="472.28" y="1212.70" width="24.73" height="13.28" fill="#f2f5fa"/><rect x="472.28" y="1375.20" width="24.73" height="13.28" fill="#ffffff"/><rect x="496.61" y="1212.70" width="24.73" height="13.28" fill="#eef2f8"/><rect x="496.61" y="1375.20" width="24.73" height="13.28" fill="#eef2f8"/><rect x="520.94" y="1212.70" width="24.73" height="13.28" fill="#eaeff7"/><rect x="520.94" y="1375.20" width="24.73" height="13.28" fill="#eef2f8"/><rect x="545.27" y="1212.70" width="24.73" height="13.28" fill="#e5ecf5"/><rect x="545.27" y="1375.20" width="24.73" height="13.28" fill="#ffffff"/><rect x="569.60" y="1212.70" width="24.73" height="13.28" fill="#d4dfee"/><rect x="569.60" y="1375.20" width="24.73" height="13.28" fill="#fae5e8"/><rect x="593.93" y="1212.70" width="24.73" height="13.28" fill="#ffffff"/><rect x="593.93" y="1375.20" width="24.73" height="13.28" fill="#fae5e8"/><rect x="618.26" y="1212.70" width="24.73" height="13.28" fill="#d4dfee"/><rect x="618.26" y="1375.20" width="24.73" height="13.28" fill="#fae5e8"/><rect x="642.59" y="1212.70" width="24.73" height="13.28" fill="#c9d7ea"/><rect x="642.59" y="1375.20" width="24.73" height="13.28" fill="#fefbfb"/><rect x="666.92" y="1212.70" width="24.73" height="13.28" fill="#eef2f8"/><rect x="666.92" y="1375.20" width="24.73" height="13.28" fill="#fceeef"/><rect x="691.25" y="1212.70" width="24.73" height="13.28" fill="#eaeff7"/><rect x="691.25" y="1375.20" width="24.73" height="13.28" fill="#f9dfe2"/><rect x="715.58" y="1212.70" width="24.73" height="13.28" fill="#dfe7f3"/><rect x="715.58" y="1375.20" width="24.73" height="13.28" fill="#ffffff"/><rect x="739.91" y="1212.70" width="24.73" height="13.28" fill="#f0b4bb"/><rect x="739.91" y="1375.20" width="24.73" height="13.28" fill="#e57e8a"/><rect x="764.24" y="1212.70" width="24.73" height="13.28" fill="#f2f5fa"/><rect x="764.24" y="1375.20" width="24.73" height="13.28" fill="#e5ecf5"/><rect x="788.57" y="1212.70" width="24.73" height="13.28" fill="#d8e2f0"/><rect x="788.57" y="1375.20" width="24.73" height="13.28" fill="#ffffff"/><rect x="83.00" y="1225.58" width="24.73" height="13.28" fill="#f4f7fb"/><rect x="83.00" y="1388.08" width="24.73" height="13.28" fill="#eef2f8"/><rect x="107.33" y="1225.58" width="24.73" height="13.28" fill="#dfe7f3"/><rect x="107.33" y="1388.08" width="24.73" height="13.28" fill="#dfe7f3"/><rect x="131.66" y="1225.58" width="24.73" height="13.28" fill="#fbfcfd"/><rect x="131.66" y="1388.08" width="24.73" height="13.28" fill="#f0b4bb"/><rect x="155.99" y="1225.58" width="24.73" height="13.28" fill="#dfe7f3"/><rect x="155.99" y="1388.08" width="24.73" height="13.28" fill="#f6d4d8"/><rect x="180.32" y="1225.58" width="24.73" height="13.28" fill="#becfe6"/><rect x="180.32" y="1388.08" width="24.73" height="13.28" fill="#688fc5"/><rect x="204.65" y="1225.58" width="24.73" height="13.28" fill="#e5ecf5"/><rect x="204.65" y="1388.08" width="24.73" height="13.28" fill="#e5ecf5"/><rect x="228.98" y="1225.58" width="24.73" height="13.28" fill="#e5ecf5"/><rect x="228.98" y="1388.08" width="24.73" height="13.28" fill="#fbeaec"/><rect x="253.31" y="1225.58" width="24.73" height="13.28" fill="#becfe6"/><rect x="253.31" y="1388.08" width="24.73" height="13.28" fill="#f6f9fc"/><rect x="277.64" y="1225.58" width="24.73" height="13.28" fill="#eef2f8"/><rect x="277.64" y="1388.08" width="24.73" height="13.28" fill="#eef2f8"/><rect x="301.97" y="1225.58" width="24.73" height="13.28" fill="#c9d7ea"/><rect x="301.97" y="1388.08" width="24.73" height="13.28" fill="#becfe6"/><rect x="326.30" y="1225.58" width="24.73" height="13.28" fill="#e5ecf5"/><rect x="326.30" y="1388.08" width="24.73" height="13.28" fill="#fceeef"/><rect x="350.63" y="1225.58" width="24.73" height="13.28" fill="#becfe6"/><rect x="350.63" y="1388.08" width="24.73" height="13.28" fill="#c9d7ea"/><rect x="374.96" y="1225.58" width="24.73" height="13.28" fill="#becfe6"/><rect x="374.96" y="1388.08" width="24.73" height="13.28" fill="#dfe7f3"/><rect x="399.29" y="1225.58" width="24.73" height="13.28" fill="#9eb7da"/><rect x="399.29" y="1388.08" width="24.73" height="13.28" fill="#f9dfe2"/><rect x="423.62" y="1225.58" width="24.73" height="13.28" fill="#d4dfee"/><rect x="423.62" y="1388.08" width="24.73" height="13.28" fill="#d4dfee"/><rect x="447.95" y="1225.58" width="24.73" height="13.28" fill="#d4dfee"/><rect x="447.95" y="1388.08" width="24.73" height="13.28" fill="#d8e2f0"/><rect x="472.28" y="1225.58" width="24.73" height="13.28" fill="#ec9ea7"/><rect x="472.28" y="1388.08" width="24.73" height="13.28" fill="#f4c9ce"/><rect x="496.61" y="1225.58" width="24.73" height="13.28" fill="#eef2f8"/><rect x="496.61" y="1388.08" width="24.73" height="13.28" fill="#eef2f8"/><rect x="520.94" y="1225.58" width="24.73" height="13.28" fill="#ffffff"/><rect x="520.94" y="1388.08" width="24.73" height="13.28" fill="#d8e2f0"/><rect x="545.27" y="1225.58" width="24.73" height="13.28" fill="#ffffff"/><rect x="545.27" y="1388.08" width="24.73" height="13.28" fill="#f9dfe2"/><rect x="569.60" y="1225.58" width="24.73" height="13.28" fill="#b8cae4"/><rect x="569.60" y="1388.08" width="24.73" height="13.28" fill="#e37380"/><rect x="593.93" y="1225.58" width="24.73" height="13.28" fill="#b8cae4"/><rect x="593.93" y="1388.08" width="24.73" height="13.28" fill="#f2bec4"/><rect x="618.26" y="1225.58" width="24.73" height="13.28" fill="#b8cae4"/><rect x="618.26" y="1388.08" width="24.73" height="13.28" fill="#ec9ea7"/><rect x="642.59" y="1225.58" width="24.73" height="13.28" fill="#ffffff"/><rect x="642.59" y="1388.08" width="24.73" height="13.28" fill="#ec9ea7"/><rect x="666.92" y="1225.58" width="24.73" height="13.28" fill="#eef2f8"/><rect x="666.92" y="1388.08" width="24.73" height="13.28" fill="#da4859"/><rect x="691.25" y="1225.58" width="24.73" height="13.28" fill="#e78994"/><rect x="691.25" y="1388.08" width="24.73" height="13.28" fill="#da4859"/><rect x="715.58" y="1225.58" width="24.73" height="13.28" fill="#dfe7f3"/><rect x="715.58" y="1388.08" width="24.73" height="13.28" fill="#da4859"/><rect x="739.91" y="1225.58" width="24.73" height="13.28" fill="#f0b4bb"/><rect x="739.91" y="1388.08" width="24.73" height="13.28" fill="#e37380"/><rect x="764.24" y="1225.58" width="24.73" height="13.28" fill="#fbeaec"/><rect x="764.24" y="1388.08" width="24.73" height="13.28" fill="#fae5e8"/><rect x="788.57" y="1225.58" width="24.73" height="13.28" fill="#f4f7fb"/><rect x="788.57" y="1388.08" width="24.73" height="13.28" fill="#f6d4d8"/><rect x="83.00" y="1238.47" width="24.73" height="13.28" fill="#fceeef"/><rect x="83.00" y="1400.97" width="24.73" height="13.28" fill="#f6d4d8"/><rect x="107.33" y="1238.47" width="24.73" height="13.28" fill="#dfe7f3"/><rect x="107.33" y="1400.97" width="24.73" height="13.28" fill="#eef2f8"/><rect x="131.66" y="1238.47" width="24.73" height="13.28" fill="#b4c7e2"/><rect x="131.66" y="1400.97" width="24.73" height="13.28" fill="#ffffff"/><rect x="155.99" y="1238.47" width="24.73" height="13.28" fill="#dfe7f3"/><rect x="155.99" y="1400.97" width="24.73" height="13.28" fill="#e5ecf5"/><rect x="180.32" y="1238.47" width="24.73" height="13.28" fill="#c9d7ea"/><rect x="180.32" y="1400.97" width="24.73" height="13.28" fill="#becfe6"/><rect x="204.65" y="1238.47" width="24.73" height="13.28" fill="#e5ecf5"/><rect x="204.65" y="1400.97" width="24.73" height="13.28" fill="#e5ecf5"/><rect x="228.98" y="1238.47" width="24.73" height="13.28" fill="#b4c7e2"/><rect x="228.98" y="1400.97" width="24.73" height="13.28" fill="#becfe6"/><rect x="253.31" y="1238.47" width="24.73" height="13.28" fill="#eaeff7"/><rect x="253.31" y="1400.97" width="24.73" height="13.28" fill="#dfe7f3"/><rect x="277.64" y="1238.47" width="24.73" height="13.28" fill="#f9fafd"/><rect x="277.64" y="1400.97" width="24.73" height="13.28" fill="#fae5e8"/><rect x="301.97" y="1238.47" width="24.73" height="13.28" fill="#d4dfee"/><rect x="301.97" y="1400.97" width="24.73" height="13.28" fill="#f9dfe2"/><rect x="326.30" y="1238.47" width="24.73" height="13.28" fill="#fdf6f7"/><rect x="326.30" y="1400.97" width="24.73" height="13.28" fill="#eea9b1"/><rect x="350.63" y="1238.47" width="24.73" height="13.28" fill="#b4c7e2"/><rect x="350.63" y="1400.97" width="24.73" height="13.28" fill="#f9fafd"/><rect x="374.96" y="1238.47" width="24.73" height="13.28" fill="#ffffff"/><rect x="374.96" y="1400.97" width="24.73" height="13.28" fill="#ffffff"/><rect x="399.29" y="1238.47" width="24.73" height="13.28" fill="#d8e2f0"/><rect x="399.29" y="1400.97" width="24.73" height="13.28" fill="#e78994"/><rect x="423.62" y="1238.47" width="24.73" height="13.28" fill="#d4dfee"/><rect x="423.62" y="1400.97" width="24.73" height="13.28" fill="#fbfcfd"/><rect x="447.95" y="1238.47" width="24.73" height="13.28" fill="#d4dfee"/><rect x="447.95" y="1400.97" width="24.73" height="13.28" fill="#f6d4d8"/><rect x="472.28" y="1238.47" width="24.73" height="13.28" fill="#ffffff"/><rect x="472.28" y="1400.97" width="24.73" height="13.28" fill="#f6d4d8"/><rect x="496.61" y="1238.47" width="24.73" height="13.28" fill="#eef2f8"/><rect x="496.61" y="1400.97" width="24.73" height="13.28" fill="#eef2f8"/><rect x="520.94" y="1238.47" width="24.73" height="13.28" fill="#fbeaec"/><rect x="520.94" y="1400.97" width="24.73" height="13.28" fill="#eea9b1"/><rect x="545.27" y="1238.47" width="24.73" height="13.28" fill="#becfe6"/><rect x="545.27" y="1400.97" width="24.73" height="13.28" fill="#9eb7da"/><rect x="569.60" y="1238.47" width="24.73" height="13.28" fill="#eaeff7"/><rect x="569.60" y="1400.97" width="24.73" height="13.28" fill="#ffffff"/><rect x="593.93" y="1238.47" width="24.73" height="13.28" fill="#becfe6"/><rect x="593.93" y="1400.97" width="24.73" height="13.28" fill="#b4c7e2"/><rect x="618.26" y="1238.47" width="24.73" height="13.28" fill="#becfe6"/><rect x="618.26" y="1400.97" width="24.73" height="13.28" fill="#b4c7e2"/><rect x="642.59" y="1238.47" width="24.73" height="13.28" fill="#d4dfee"/><rect x="642.59" y="1400.97" width="24.73" height="13.28" fill="#e5ecf5"/><rect x="666.92" y="1238.47" width="24.73" height="13.28" fill="#f4f7fb"/><rect x="666.92" y="1400.97" width="24.73" height="13.28" fill="#d4dfee"/><rect x="691.25" y="1238.47" width="24.73" height="13.28" fill="#f4f7fb"/><rect x="691.25" y="1400.97" width="24.73" height="13.28" fill="#e5ecf5"/><rect x="715.58" y="1238.47" width="24.73" height="13.28" fill="#dfe7f3"/><rect x="715.58" y="1400.97" width="24.73" height="13.28" fill="#ffffff"/><rect x="739.91" y="1238.47" width="24.73" height="13.28" fill="#c3d2e8"/><rect x="739.91" y="1400.97" width="24.73" height="13.28" fill="#d4dfee"/><rect x="764.24" y="1238.47" width="24.73" height="13.28" fill="#df5e6d"/><rect x="764.24" y="1400.97" width="24.73" height="13.28" fill="#9eb7da"/><rect x="788.57" y="1238.47" width="24.73" height="13.28" fill="#e37380"/><rect x="788.57" y="1400.97" width="24.73" height="13.28" fill="#ea949e"/><rect x="83.00" y="1251.35" width="24.73" height="13.28" fill="#e5ecf5"/><rect x="83.00" y="1413.85" width="24.73" height="13.28" fill="#d83e50"/><rect x="107.33" y="1251.35" width="24.73" height="13.28" fill="#e5ecf5"/><rect x="107.33" y="1413.85" width="24.73" height="13.28" fill="#d83e50"/><rect x="131.66" y="1251.35" width="24.73" height="13.28" fill="#b4c7e2"/><rect x="131.66" y="1413.85" width="24.73" height="13.28" fill="#d83e50"/><rect x="155.99" y="1251.35" width="24.73" height="13.28" fill="#d83e50"/><rect x="155.99" y="1413.85" width="24.73" height="13.28" fill="#ea949e"/><rect x="180.32" y="1251.35" width="24.73" height="13.28" fill="#a9bfde"/><rect x="180.32" y="1413.85" width="24.73" height="13.28" fill="#a9bfde"/><rect x="204.65" y="1251.35" width="24.73" height="13.28" fill="#e5ecf5"/><rect x="204.65" y="1413.85" width="24.73" height="13.28" fill="#e5ecf5"/><rect x="228.98" y="1251.35" width="24.73" height="13.28" fill="#d8e2f0"/><rect x="228.98" y="1413.85" width="24.73" height="13.28" fill="#89a7d1"/><rect x="253.31" y="1251.35" width="24.73" height="13.28" fill="#eef2f8"/><rect x="253.31" y="1413.85" width="24.73" height="13.28" fill="#fceeef"/><rect x="277.64" y="1251.35" width="24.73" height="13.28" fill="#eaeff7"/><rect x="277.64" y="1413.85" width="24.73" height="13.28" fill="#eef2f8"/><rect x="301.97" y="1251.35" width="24.73" height="13.28" fill="#eef2f8"/><rect x="301.97" y="1413.85" width="24.73" height="13.28" fill="#fbeaec"/><rect x="326.30" y="1251.35" width="24.73" height="13.28" fill="#becfe6"/><rect x="326.30" y="1413.85" width="24.73" height="13.28" fill="#eef2f8"/><rect x="350.63" y="1251.35" width="24.73" height="13.28" fill="#eef2f8"/><rect x="350.63" y="1413.85" width="24.73" height="13.28" fill="#b4c7e2"/><rect x="374.96" y="1251.35" width="24.73" height="13.28" fill="#a9bfde"/><rect x="374.96" y="1413.85" width="24.73" height="13.28" fill="#94afd6"/><rect x="399.29" y="1251.35" width="24.73" height="13.28" fill="#e5ecf5"/><rect x="399.29" y="1413.85" width="24.73" height="13.28" fill="#9eb7da"/><rect x="423.62" y="1251.35" width="24.73" height="13.28" fill="#d4dfee"/><rect x="423.62" y="1413.85" width="24.73" height="13.28" fill="#d4dfee"/><rect x="447.95" y="1251.35" width="24.73" height="13.28" fill="#d4dfee"/><rect x="447.95" y="1413.85" width="24.73" height="13.28" fill="#dfe7f3"/><rect x="472.28" y="1251.35" width="24.73" height="13.28" fill="#ffffff"/><rect x="472.28" y="1413.85" width="24.73" height="13.28" fill="#f0b4bb"/><rect x="496.61" y="1251.35" width="24.73" height="13.28" fill="#eef2f8"/><rect x="496.61" y="1413.85" width="24.73" height="13.28" fill="#eef2f8"/><rect x="520.94" y="1251.35" width="24.73" height="13.28" fill="#c9d7ea"/><rect x="520.94" y="1413.85" width="24.73" height="13.28" fill="#c9d7ea"/><rect x="545.27" y="1251.35" width="24.73" height="13.28" fill="#fceeef"/><rect x="545.27" y="1413.85" width="24.73" height="13.28" fill="#f0b4bb"/><rect x="569.60" y="1251.35" width="24.73" height="13.28" fill="#c9d7ea"/><rect x="569.60" y="1413.85" width="24.73" height="13.28" fill="#fae5e8"/><rect x="593.93" y="1251.35" width="24.73" height="13.28" fill="#7e9fcd"/><rect x="593.93" y="1413.85" width="24.73" height="13.28" fill="#f0b4bb"/><rect x="618.26" y="1251.35" width="24.73" height="13.28" fill="#ffffff"/><rect x="618.26" y="1413.85" width="24.73" height="13.28" fill="#ffffff"/><rect x="642.59" y="1251.35" width="24.73" height="13.28" fill="#c9d7ea"/><rect x="642.59" y="1413.85" width="24.73" height="13.28" fill="#becfe6"/><rect x="666.92" y="1251.35" width="24.73" height="13.28" fill="#becfe6"/><rect x="666.92" y="1413.85" width="24.73" height="13.28" fill="#f6f9fc"/><rect x="691.25" y="1251.35" width="24.73" height="13.28" fill="#eaeff7"/><rect x="691.25" y="1413.85" width="24.73" height="13.28" fill="#e5ecf5"/><rect x="715.58" y="1251.35" width="24.73" height="13.28" fill="#dfe7f3"/><rect x="715.58" y="1413.85" width="24.73" height="13.28" fill="#e5ecf5"/><rect x="739.91" y="1251.35" width="24.73" height="13.28" fill="#c3d2e8"/><rect x="739.91" y="1413.85" width="24.73" height="13.28" fill="#c9d7ea"/><rect x="764.24" y="1251.35" width="24.73" height="13.28" fill="#f0b4bb"/><rect x="764.24" y="1413.85" width="24.73" height="13.28" fill="#c9d7ea"/><rect x="788.57" y="1251.35" width="24.73" height="13.28" fill="#c3d2e8"/><rect x="788.57" y="1413.85" width="24.73" height="13.28" fill="#c9d7ea"/><rect x="83.00" y="1264.23" width="24.73" height="13.28" fill="#e5ecf5"/><rect x="83.00" y="1426.73" width="24.73" height="13.28" fill="#e5ecf5"/><rect x="107.33" y="1264.23" width="24.73" height="13.28" fill="#e5ecf5"/><rect x="107.33" y="1426.73" width="24.73" height="13.28" fill="#ffffff"/><rect x="131.66" y="1264.23" width="24.73" height="13.28" fill="#e5ecf5"/><rect x="131.66" y="1426.73" width="24.73" height="13.28" fill="#eef2f8"/><rect x="155.99" y="1264.23" width="24.73" height="13.28" fill="#dfe7f3"/><rect x="155.99" y="1426.73" width="24.73" height="13.28" fill="#eef2f8"/><rect x="180.32" y="1264.23" width="24.73" height="13.28" fill="#f7d8dc"/><rect x="180.32" y="1426.73" width="24.73" height="13.28" fill="#f2bec4"/><rect x="204.65" y="1264.23" width="24.73" height="13.28" fill="#e5ecf5"/><rect x="204.65" y="1426.73" width="24.73" height="13.28" fill="#fefbfb"/><rect x="228.98" y="1264.23" width="24.73" height="13.28" fill="#e5ecf5"/><rect x="228.98" y="1426.73" width="24.73" height="13.28" fill="#fefbfb"/><rect x="253.31" y="1264.23" width="24.73" height="13.28" fill="#e37380"/><rect x="253.31" y="1426.73" width="24.73" height="13.28" fill="#e37380"/><rect x="277.64" y="1264.23" width="24.73" height="13.28" fill="#ffffff"/><rect x="277.64" y="1426.73" width="24.73" height="13.28" fill="#fefbfb"/><rect x="301.97" y="1264.23" width="24.73" height="13.28" fill="#fbfcfd"/><rect x="301.97" y="1426.73" width="24.73" height="13.28" fill="#e78994"/><rect x="326.30" y="1264.23" width="24.73" height="13.28" fill="#eda5ad"/><rect x="326.30" y="1426.73" width="24.73" height="13.28" fill="#e57e8a"/><rect x="350.63" y="1264.23" width="24.73" height="13.28" fill="#eda5ad"/><rect x="350.63" y="1426.73" width="24.73" height="13.28" fill="#da4859"/><rect x="374.96" y="1264.23" width="24.73" height="13.28" fill="#eda5ad"/><rect x="374.96" y="1426.73" width="24.73" height="13.28" fill="#ffffff"/><rect x="399.29" y="1264.23" width="24.73" height="13.28" fill="#fbfcfd"/><rect x="399.29" y="1426.73" width="24.73" height="13.28" fill="#fae5e8"/><rect x="423.62" y="1264.23" width="24.73" height="13.28" fill="#eaeff7"/><rect x="423.62" y="1426.73" width="24.73" height="13.28" fill="#f4c9ce"/><rect x="447.95" y="1264.23" width="24.73" height="13.28" fill="#d4dfee"/><rect x="447.95" y="1426.73" width="24.73" height="13.28" fill="#ffffff"/><rect x="472.28" y="1264.23" width="24.73" height="13.28" fill="#e5ecf5"/><rect x="472.28" y="1426.73" width="24.73" height="13.28" fill="#fdf4f5"/><rect x="496.61" y="1264.23" width="24.73" height="13.28" fill="#eef2f8"/><rect x="496.61" y="1426.73" width="24.73" height="13.28" fill="#f2f5fa"/><rect x="520.94" y="1264.23" width="24.73" height="13.28" fill="#d8e2f0"/><rect x="520.94" y="1426.73" width="24.73" height="13.28" fill="#f2f5fa"/><rect x="545.27" y="1264.23" width="24.73" height="13.28" fill="#c9d7ea"/><rect x="545.27" y="1426.73" width="24.73" height="13.28" fill="#ffffff"/><rect x="569.60" y="1264.23" width="24.73" height="13.28" fill="#ffffff"/><rect x="569.60" y="1426.73" width="24.73" height="13.28" fill="#fdf4f5"/><rect x="593.93" y="1264.23" width="24.73" height="13.28" fill="#b8cae4"/><rect x="593.93" y="1426.73" width="24.73" height="13.28" fill="#dfe7f3"/><rect x="618.26" y="1264.23" width="24.73" height="13.28" fill="#adc2df"/><rect x="618.26" y="1426.73" width="24.73" height="13.28" fill="#fceeef"/><rect x="642.59" y="1264.23" width="24.73" height="13.28" fill="#c9d7ea"/><rect x="642.59" y="1426.73" width="24.73" height="13.28" fill="#fef9f9"/><rect x="666.92" y="1264.23" width="24.73" height="13.28" fill="#f4c9ce"/><rect x="666.92" y="1426.73" width="24.73" height="13.28" fill="#fef9f9"/><rect x="691.25" y="1264.23" width="24.73" height="13.28" fill="#eef2f8"/><rect x="691.25" y="1426.73" width="24.73" height="13.28" fill="#f2f5fa"/><rect x="715.58" y="1264.23" width="24.73" height="13.28" fill="#dfe7f3"/><rect x="715.58" y="1426.73" width="24.73" height="13.28" fill="#f4c9ce"/><rect x="739.91" y="1264.23" width="24.73" height="13.28" fill="#d4dfee"/><rect x="739.91" y="1426.73" width="24.73" height="13.28" fill="#f6f9fc"/><rect x="764.24" y="1264.23" width="24.73" height="13.28" fill="#f6d4d8"/><rect x="764.24" y="1426.73" width="24.73" height="13.28" fill="#eaeff7"/><rect x="788.57" y="1264.23" width="24.73" height="13.28" fill="#dfe7f3"/><rect x="788.57" y="1426.73" width="24.73" height="13.28" fill="#ffffff"/><rect x="83.00" y="1277.12" width="24.73" height="13.28" fill="#ffffff"/><rect x="83.00" y="1439.62" width="24.73" height="13.28" fill="#fefbfb"/><rect x="107.33" y="1277.12" width="24.73" height="13.28" fill="#dfe7f3"/><rect x="107.33" y="1439.62" width="24.73" height="13.28" fill="#e5ecf5"/><rect x="131.66" y="1277.12" width="24.73" height="13.28" fill="#fceeef"/><rect x="131.66" y="1439.62" width="24.73" height="13.28" fill="#ea949e"/><rect x="155.99" y="1277.12" width="24.73" height="13.28" fill="#d8e2f0"/><rect x="155.99" y="1439.62" width="24.73" height="13.28" fill="#eef2f8"/><rect x="180.32" y="1277.12" width="24.73" height="13.28" fill="#ffffff"/><rect x="180.32" y="1439.62" width="24.73" height="13.28" fill="#dfe7f3"/><rect x="204.65" y="1277.12" width="24.73" height="13.28" fill="#e5ecf5"/><rect x="204.65" y="1439.62" width="24.73" height="13.28" fill="#e5ecf5"/><rect x="228.98" y="1277.12" width="24.73" height="13.28" fill="#d8e2f0"/><rect x="228.98" y="1439.62" width="24.73" height="13.28" fill="#9eb7da"/><rect x="253.31" y="1277.12" width="24.73" height="13.28" fill="#dfe7f3"/><rect x="253.31" y="1439.62" width="24.73" height="13.28" fill="#f4f7fb"/><rect x="277.64" y="1277.12" width="24.73" height="13.28" fill="#eaeff7"/><rect x="277.64" y="1439.62" width="24.73" height="13.28" fill="#eef2f8"/><rect x="301.97" y="1277.12" width="24.73" height="13.28" fill="#fdf4f5"/><rect x="301.97" y="1439.62" width="24.73" height="13.28" fill="#eea9b1"/><rect x="326.30" y="1277.12" width="24.73" height="13.28" fill="#ea949e"/><rect x="326.30" y="1439.62" width="24.73" height="13.28" fill="#e57e8a"/><rect x="350.63" y="1277.12" width="24.73" height="13.28" fill="#eaeff7"/><rect x="350.63" y="1439.62" width="24.73" height="13.28" fill="#f0b4bb"/><rect x="374.96" y="1277.12" width="24.73" height="13.28" fill="#f9dfe2"/><rect x="374.96" y="1439.62" width="24.73" height="13.28" fill="#f0b4bb"/><rect x="399.29" y="1277.12" width="24.73" height="13.28" fill="#b4c7e2"/><rect x="399.29" y="1439.62" width="24.73" height="13.28" fill="#f0b4bb"/><rect x="423.62" y="1277.12" width="24.73" height="13.28" fill="#fdf4f5"/><rect x="423.62" y="1439.62" width="24.73" height="13.28" fill="#fdf4f5"/><rect x="447.95" y="1277.12" width="24.73" height="13.28" fill="#d4dfee"/><rect x="447.95" y="1439.62" width="24.73" height="13.28" fill="#fbeaec"/><rect x="472.28" y="1277.12" width="24.73" height="13.28" fill="#e57e8a"/><rect x="472.28" y="1439.62" width="24.73" height="13.28" fill="#e37380"/><rect x="496.61" y="1277.12" width="24.73" height="13.28" fill="#eef2f8"/><rect x="496.61" y="1439.62" width="24.73" height="13.28" fill="#da4859"/><rect x="520.94" y="1277.12" width="24.73" height="13.28" fill="#e78994"/><rect x="520.94" y="1439.62" width="24.73" height="13.28" fill="#f4c9ce"/><rect x="545.27" y="1277.12" width="24.73" height="13.28" fill="#b4c7e2"/><rect x="545.27" y="1439.62" width="24.73" height="13.28" fill="#ffffff"/><rect x="569.60" y="1277.12" width="24.73" height="13.28" fill="#d4dfee"/><rect x="569.60" y="1439.62" width="24.73" height="13.28" fill="#fbeaec"/><rect x="593.93" y="1277.12" width="24.73" height="13.28" fill="#b4c7e2"/><rect x="593.93" y="1439.62" width="24.73" height="13.28" fill="#b4c7e2"/><rect x="618.26" y="1277.12" width="24.73" height="13.28" fill="#e5ecf5"/><rect x="618.26" y="1439.62" width="24.73" height="13.28" fill="#e5ecf5"/><rect x="642.59" y="1277.12" width="24.73" height="13.28" fill="#e5ecf5"/><rect x="642.59" y="1439.62" width="24.73" height="13.28" fill="#f6d4d8"/><rect x="666.92" y="1277.12" width="24.73" height="13.28" fill="#f6f9fc"/><rect x="666.92" y="1439.62" width="24.73" height="13.28" fill="#f9dfe2"/><rect x="691.25" y="1277.12" width="24.73" height="13.28" fill="#f6f9fc"/><rect x="691.25" y="1439.62" width="24.73" height="13.28" fill="#f6f9fc"/><rect x="715.58" y="1277.12" width="24.73" height="13.28" fill="#dfe7f3"/><rect x="715.58" y="1439.62" width="24.73" height="13.28" fill="#ffffff"/><rect x="739.91" y="1277.12" width="24.73" height="13.28" fill="#becfe6"/><rect x="739.91" y="1439.62" width="24.73" height="13.28" fill="#f6f9fc"/><rect x="764.24" y="1277.12" width="24.73" height="13.28" fill="#f6f9fc"/><rect x="764.24" y="1439.62" width="24.73" height="13.28" fill="#b4c7e2"/><rect x="788.57" y="1277.12" width="24.73" height="13.28" fill="#c9d7ea"/><rect x="788.57" y="1439.62" width="24.73" height="13.28" fill="#dfe7f3"/>
<rect x="32.1" y="1135.40" width="17" height="13.18" fill="#e8c35a"/><rect x="32.1" y="1148.28" width="17" height="13.18" fill="#ee7065"/><rect x="32.1" y="1161.17" width="17" height="13.18" fill="#9f7ec1"/><rect x="32.1" y="1174.05" width="17" height="13.18" fill="#b0279b"/><rect x="32.1" y="1186.93" width="17" height="13.18" fill="#a85a24"/><rect x="32.1" y="1199.82" width="17" height="13.18" fill="#e3b89c"/><rect x="32.1" y="1212.70" width="17" height="13.18" fill="#2cae45"/><rect x="32.1" y="1225.58" width="17" height="13.18" fill="#128a7b"/><rect x="32.1" y="1238.47" width="17" height="13.18" fill="#c93230"/><rect x="32.1" y="1251.35" width="17" height="13.18" fill="#bc9c9e"/><rect x="32.1" y="1264.23" width="17" height="13.18" fill="#0e5f96"/><rect x="32.1" y="1277.12" width="17" height="13.18" fill="#78c0bf"/><rect x="51.9" y="1135.40" width="28" height="154.60" fill="#2e9a72"/><line x1="51.9" x2="79.9" y1="1148.28" y2="1148.28" stroke="#ffffff" stroke-opacity="0.1" stroke-width="1"/><line x1="51.9" x2="79.9" y1="1161.17" y2="1161.17" stroke="#ffffff" stroke-opacity="0.1" stroke-width="1"/><line x1="51.9" x2="79.9" y1="1174.05" y2="1174.05" stroke="#ffffff" stroke-opacity="0.1" stroke-width="1"/><line x1="51.9" x2="79.9" y1="1186.93" y2="1186.93" stroke="#ffffff" stroke-opacity="0.1" stroke-width="1"/><line x1="51.9" x2="79.9" y1="1199.82" y2="1199.82" stroke="#ffffff" stroke-opacity="0.1" stroke-width="1"/><line x1="51.9" x2="79.9" y1="1212.70" y2="1212.70" stroke="#ffffff" stroke-opacity="0.1" stroke-width="1"/><line x1="51.9" x2="79.9" y1="1225.58" y2="1225.58" stroke="#ffffff" stroke-opacity="0.1" stroke-width="1"/><line x1="51.9" x2="79.9" y1="1238.47" y2="1238.47" stroke="#ffffff" stroke-opacity="0.1" stroke-width="1"/><line x1="51.9" x2="79.9" y1="1251.35" y2="1251.35" stroke="#ffffff" stroke-opacity="0.1" stroke-width="1"/><line x1="51.9" x2="79.9" y1="1264.23" y2="1264.23" stroke="#ffffff" stroke-opacity="0.1" stroke-width="1"/><line x1="51.9" x2="79.9" y1="1277.12" y2="1277.12" stroke="#ffffff" stroke-opacity="0.1" stroke-width="1"/><rect x="32.1" y="1297.90" width="17" height="13.18" fill="#e8c35a"/><rect x="32.1" y="1310.78" width="17" height="13.18" fill="#ee7065"/><rect x="32.1" y="1323.67" width="17" height="13.18" fill="#9f7ec1"/><rect x="32.1" y="1336.55" width="17" height="13.18" fill="#b0279b"/><rect x="32.1" y="1349.43" width="17" height="13.18" fill="#a85a24"/><rect x="32.1" y="1362.32" width="17" height="13.18" fill="#e3b89c"/><rect x="32.1" y="1375.20" width="17" height="13.18" fill="#2cae45"/><rect x="32.1" y="1388.08" width="17" height="13.18" fill="#128a7b"/><rect x="32.1" y="1400.97" width="17" height="13.18" fill="#c93230"/><rect x="32.1" y="1413.85" width="17" height="13.18" fill="#bc9c9e"/><rect x="32.1" y="1426.73" width="17" height="13.18" fill="#0e5f96"/><rect x="32.1" y="1439.62" width="17" height="13.18" fill="#78c0bf"/><rect x="51.9" y="1297.90" width="28" height="154.60" fill="#eea061"/><line x1="51.9" x2="79.9" y1="1310.78" y2="1310.78" stroke="#ffffff" stroke-opacity="0.1" stroke-width="1"/><line x1="51.9" x2="79.9" y1="1323.67" y2="1323.67" stroke="#ffffff" stroke-opacity="0.1" stroke-width="1"/><line x1="51.9" x2="79.9" y1="1336.55" y2="1336.55" stroke="#ffffff" stroke-opacity="0.1" stroke-width="1"/><line x1="51.9" x2="79.9" y1="1349.43" y2="1349.43" stroke="#ffffff" stroke-opacity="0.1" stroke-width="1"/><line x1="51.9" x2="79.9" y1="1362.32" y2="1362.32" stroke="#ffffff" stroke-opacity="0.1" stroke-width="1"/><line x1="51.9" x2="79.9" y1="1375.20" y2="1375.20" stroke="#ffffff" stroke-opacity="0.1" stroke-width="1"/><line x1="51.9" x2="79.9" y1="1388.08" y2="1388.08" stroke="#ffffff" stroke-opacity="0.1" stroke-width="1"/><line x1="51.9" x2="79.9" y1="1400.97" y2="1400.97" stroke="#ffffff" stroke-opacity="0.1" stroke-width="1"/><line x1="51.9" x2="79.9" y1="1413.85" y2="1413.85" stroke="#ffffff" stroke-opacity="0.1" stroke-width="1"/><line x1="51.9" x2="79.9" y1="1426.73" y2="1426.73" stroke="#ffffff" stroke-opacity="0.1" stroke-width="1"/><line x1="51.9" x2="79.9" y1="1439.62" y2="1439.62" stroke="#ffffff" stroke-opacity="0.1" stroke-width="1"/>
<text transform="translate(72.6,1213.5) rotate(-90)" text-anchor="middle" font-size="27">Young</text>
<text transform="translate(76.8,1372) rotate(-90)" text-anchor="middle" font-size="27">Old</text>
<path d="M94.0,1136.0V1126.6H118.3V1136.0M106.1,1126.6V1123.0H142.6V1136.0M124.4,1123.0V1115.5H167.0V1136.0M191.3,1136.0V1122.1H215.6V1136.0M203.4,1122.1V1120.4H239.9V1136.0M145.7,1115.5V1109.6H221.7V1120.4M264.3,1136.0V1124.6H288.6V1136.0M276.4,1124.6V1120.4H312.9V1136.0M337.3,1136.0V1121.4H361.6V1136.0M294.7,1120.4V1115.5H349.4V1121.4M385.9,1136.0V1121.8H410.3V1136.0M434.6,1136.0V1124.0H458.9V1136.0M398.1,1121.8V1116.6H446.8V1124.0M483.2,1136.0V1119.0H507.6V1136.0M495.4,1119.0V1117.6H531.9V1136.0M422.4,1116.6V1112.8H513.7V1117.6M322.1,1115.5V1111.4H468.0V1112.8M556.2,1136.0V1125.3H580.6V1136.0M568.4,1125.3V1121.0H604.9V1136.0M629.2,1136.0V1125.9H653.6V1136.0M586.6,1121.0V1119.0H641.4V1125.9M677.9,1136.0V1125.9H702.2V1136.0M690.0,1125.9V1122.4H726.5V1136.0M708.3,1122.4V1119.5H750.9V1136.0M614.0,1119.0V1116.2H729.6V1119.5M775.2,1136.0V1118.5H799.5V1136.0M671.8,1116.2V1113.3H787.4V1118.5M395.0,1111.4V1109.6H729.6V1113.3M183.7,1109.6V1107.8H562.3V1109.6" fill="none" stroke="#555" stroke-width="1.1"/>
<text transform="translate(102.7,1460.6) rotate(-90)" text-anchor="end" font-size="27.7" font-style="italic" fill="#c8102e">EEPD1</text><text transform="translate(127.0,1460.6) rotate(-90)" text-anchor="end" font-size="27.7" fill="#c8102e">GLDC</text><text transform="translate(151.3,1460.6) rotate(-90)" text-anchor="end" font-size="27.7" fill="#c8102e">SLC16A5</text><text transform="translate(175.7,1460.6) rotate(-90)" text-anchor="end" font-size="27.7" fill="#c8102e">SLC22A3</text><text transform="translate(200.0,1460.6) rotate(-90)" text-anchor="end" font-size="27.7" font-style="italic" fill="#c8102e">LMAN2L</text><text transform="translate(224.3,1460.6) rotate(-90)" text-anchor="end" font-size="27.7" font-style="italic" fill="#c8102e">TMEM158</text><text transform="translate(248.6,1460.6) rotate(-90)" text-anchor="end" font-size="27.7" fill="#c8102e">STOML1</text><text transform="translate(273.0,1460.6) rotate(-90)" text-anchor="end" font-size="27.7" fill="#c8102e">SLC37A1</text><text transform="translate(297.3,1460.6) rotate(-90)" text-anchor="end" font-size="27.7" fill="#c8102e">RTN4R</text><text transform="translate(321.6,1460.6) rotate(-90)" text-anchor="end" font-size="27.7" fill="#c8102e">BANP</text><text transform="translate(346.0,1460.6) rotate(-90)" text-anchor="end" font-size="27.7" font-style="italic" fill="#c8102e">FAM53B</text><text transform="translate(370.3,1460.6) rotate(-90)" text-anchor="end" font-size="27.7" font-style="italic" fill="#c8102e">PIM1</text><text transform="translate(394.6,1460.6) rotate(-90)" text-anchor="end" font-size="27.7" font-style="italic" fill="#c8102e">MANF</text><text transform="translate(419.0,1460.6) rotate(-90)" text-anchor="end" font-size="27.7" font-style="italic" fill="#c8102e">H2AC6</text><text transform="translate(443.3,1460.6) rotate(-90)" text-anchor="end" font-size="27.7" font-style="italic" fill="#c8102e">H2BC21</text><text transform="translate(467.6,1460.6) rotate(-90)" text-anchor="end" font-size="27.7" font-style="italic" fill="#c8102e">FAM166C</text><text transform="translate(491.9,1460.6) rotate(-90)" text-anchor="end" font-size="27.7" font-style="italic" fill="#c8102e">BCL3</text><text transform="translate(516.3,1460.6) rotate(-90)" text-anchor="end" font-size="27.7" fill="#c8102e">S100A9</text><text transform="translate(540.6,1460.6) rotate(-90)" text-anchor="end" font-size="27.7" font-style="italic" fill="#c8102e">PLEKHO1</text><text transform="translate(564.9,1460.6) rotate(-90)" text-anchor="end" font-size="27.7" fill="#c8102e">UQCC2</text><text transform="translate(589.3,1460.6) rotate(-90)" text-anchor="end" font-size="27.7" font-style="italic" fill="#c8102e">HSP90AA1</text><text transform="translate(613.6,1460.6) rotate(-90)" text-anchor="end" font-size="27.7" font-style="italic" fill="#c8102e">FKBP4</text><text transform="translate(637.9,1460.6) rotate(-90)" text-anchor="end" font-size="27.7" font-style="italic" fill="#c8102e">GABRA5</text><text transform="translate(662.3,1460.6) rotate(-90)" text-anchor="end" font-size="27.7" font-style="italic" fill="#c8102e">THEM6</text><text transform="translate(686.6,1460.6) rotate(-90)" text-anchor="end" font-size="27.7" font-style="italic" fill="#c8102e">RPL35</text><text transform="translate(710.9,1460.6) rotate(-90)" text-anchor="end" font-size="27.7" font-style="italic" fill="#c8102e">SFRP5</text><text transform="translate(735.2,1460.6) rotate(-90)" text-anchor="end" font-size="27.7" font-style="italic" fill="#c8102e">NR0B2</text><text transform="translate(759.6,1460.6) rotate(-90)" text-anchor="end" font-size="27.7" font-style="italic" fill="#c8102e">EFHD1</text><text transform="translate(783.9,1460.6) rotate(-90)" text-anchor="end" font-size="27.7" font-style="italic" fill="#c8102e">TUBB4B</text><text transform="translate(808.2,1460.6) rotate(-90)" text-anchor="end" font-size="27.7" font-style="italic" fill="#c8102e">PEA15</text>
<text x="150.0" y="1633.0" font-size="27.5" >Z-score</text>
<rect x="129.7" y="1648.4" width="125.5" height="9.2" fill="url(#gc)"/>
<text x="126.0" y="1682.7" font-size="27" text-anchor="middle" >-3</text>
<text x="196.5" y="1682.7" font-size="27" text-anchor="middle" >0</text>
<text x="254.4" y="1682.7" font-size="27" text-anchor="middle" >3</text>
<text x="401.7" y="1630.3" font-size="26.2" >Cell type</text>
<rect x="516.00" y="1610.2" width="24.75" height="24" fill="#e8c35a"/><rect x="540.45" y="1610.2" width="24.75" height="24" fill="#ee7065"/><rect x="564.90" y="1610.2" width="24.75" height="24" fill="#9f7ec1"/><rect x="589.35" y="1610.2" width="24.75" height="24" fill="#b0279b"/><rect x="613.80" y="1610.2" width="24.75" height="24" fill="#a85a24"/><rect x="638.25" y="1610.2" width="24.75" height="24" fill="#e3b89c"/><rect x="662.70" y="1610.2" width="24.75" height="24" fill="#2cae45"/><rect x="687.15" y="1610.2" width="24.75" height="24" fill="#128a7b"/><rect x="711.60" y="1610.2" width="24.75" height="24" fill="#c93230"/><rect x="736.05" y="1610.2" width="24.75" height="24" fill="#bc9c9e"/><rect x="760.50" y="1610.2" width="24.75" height="24" fill="#0e5f96"/><rect x="784.95" y="1610.2" width="24.75" height="24" fill="#78c0bf"/><text transform="translate(534.4,1637.8) rotate(-90)" text-anchor="end" font-size="26.6">ZG</text><text transform="translate(558.9,1637.8) rotate(-90)" text-anchor="end" font-size="26.6">Transitional cell</text><text transform="translate(583.3,1637.8) rotate(-90)" text-anchor="end" font-size="26.6">ZF</text><text transform="translate(607.8,1637.8) rotate(-90)" text-anchor="end" font-size="26.6">ZR</text><text transform="translate(632.2,1637.8) rotate(-90)" text-anchor="end" font-size="26.6">Chromaffin cell</text><text transform="translate(656.7,1637.8) rotate(-90)" text-anchor="end" font-size="26.6">Neuron</text><text transform="translate(681.1,1637.8) rotate(-90)" text-anchor="end" font-size="26.6">FB</text><text transform="translate(705.6,1637.8) rotate(-90)" text-anchor="end" font-size="26.6">SMC</text><text transform="translate(730.0,1637.8) rotate(-90)" text-anchor="end" font-size="26.6">EC</text><text transform="translate(754.5,1637.8) rotate(-90)" text-anchor="end" font-size="26.6">Adi</text><text transform="translate(778.9,1637.8) rotate(-90)" text-anchor="end" font-size="26.6">TC</text><text transform="translate(803.4,1637.8) rotate(-90)" text-anchor="end" font-size="26.6">Mac</text>
<text x="889.6" y="1128" font-size="26.4"><tspan font-style="italic">CREM</tspan> target genes</text>
<text x="1152.4" y="1127.7" font-size="26.4" >Group</text>
<rect x="1243.2" y="1118.5" width="18.8" height="11.2" fill="#2e9a78"/><line x1="1243.2" x2="1262" y1="1124" y2="1124" stroke="#fff" stroke-width="2"/>
<text x="1277.5" y="1127.7" font-size="26.4" >Young</text>
<rect x="1367" y="1116.6" width="18.2" height="11.1" fill="#f0a05a"/><line x1="1367" x2="1385.2" y1="1122.1" y2="1122.1" stroke="#fff" stroke-width="2"/>
<text x="1399.5" y="1127.7" font-size="26.4" >Old</text>
<rect x="1049.3" y="1271" width="80.4" height="365" fill="#deebf7"/>
<line x1="984.4" x2="984.4" y1="1339.8" y2="1526.7" stroke="#1a1a1a" stroke-width="2"/><rect x="977.8" y="1410.5" width="13.2" height="45.6" fill="#2e9a78" stroke="#e6e6e6" stroke-width="1"/><line x1="977.8" x2="991.0" y1="1434.1" y2="1434.1" stroke="#fff" stroke-width="2.8"/><line x1="998.6" x2="998.6" y1="1377.2" y2="1538.1" stroke="#1a1a1a" stroke-width="2"/><rect x="992.0" y="1438.1" width="13.2" height="39.0" fill="#f0a05a" stroke="#e6e6e6" stroke-width="1"/><line x1="992.0" x2="1005.2" y1="1457.9" y2="1457.9" stroke="#fff" stroke-width="2.8"/><line x1="1024.2" x2="1024.2" y1="1327.2" y2="1558.6" stroke="#1a1a1a" stroke-width="2"/><path d="M1017.6,1391.6H1030.8V1422.3L1029.0,1429.3L1030.8,1436.3V1489.2H1017.6V1436.3L1019.5,1429.3L1017.6,1422.3Z" fill="#2e9a78" stroke="#e6e6e6" stroke-width="1"/><line x1="1018.5" x2="1030.0" y1="1429.3" y2="1429.3" stroke="#fff" stroke-width="2.8"/><line x1="1038.4" x2="1038.4" y1="1398.4" y2="1561.5" stroke="#1a1a1a" stroke-width="2"/><rect x="1031.8" y="1459.4" width="13.2" height="40.8" fill="#f0a05a" stroke="#e6e6e6" stroke-width="1"/><line x1="1031.8" x2="1045.0" y1="1480.0" y2="1480.0" stroke="#fff" stroke-width="2.8"/><line x1="1064.1" x2="1064.1" y1="1301.9" y2="1586.2" stroke="#1a1a1a" stroke-width="2"/><rect x="1057.5" y="1391.8" width="13.2" height="84.6" fill="#2e9a78" stroke="#e6e6e6" stroke-width="1"/><line x1="1057.5" x2="1070.7" y1="1426.8" y2="1426.8" stroke="#fff" stroke-width="2.8"/><line x1="1078.3" x2="1078.3" y1="1400.2" y2="1576.3" stroke="#1a1a1a" stroke-width="2"/><rect x="1071.7" y="1466.7" width="13.2" height="43.4" fill="#f0a05a" stroke="#e6e6e6" stroke-width="1"/><line x1="1071.7" x2="1084.9" y1="1489.2" y2="1489.2" stroke="#fff" stroke-width="2.8"/><line x1="1104.0" x2="1104.0" y1="1291.3" y2="1513.4" stroke="#1a1a1a" stroke-width="2"/><path d="M1097.4,1358.1H1110.5V1375.3L1108.7,1382.3L1110.5,1389.3V1419.8H1097.4V1389.3L1099.2,1382.3L1097.4,1375.3Z" fill="#2e9a78" stroke="#e6e6e6" stroke-width="1"/><line x1="1098.2" x2="1109.7" y1="1382.3" y2="1382.3" stroke="#fff" stroke-width="2.8"/><line x1="1118.1" x2="1118.1" y1="1394.0" y2="1547.6" stroke="#1a1a1a" stroke-width="2"/><rect x="1111.5" y="1446.2" width="13.2" height="44.1" fill="#f0a05a" stroke="#e6e6e6" stroke-width="1"/><line x1="1111.5" x2="1124.7" y1="1468.3" y2="1468.3" stroke="#fff" stroke-width="2.8"/><line x1="1143.8" x2="1143.8" y1="1363.1" y2="1540.3" stroke="#1a1a1a" stroke-width="2"/><rect x="1137.2" y="1430.8" width="13.2" height="42.5" fill="#2e9a78" stroke="#e6e6e6" stroke-width="1"/><line x1="1137.2" x2="1150.4" y1="1450.6" y2="1450.6" stroke="#fff" stroke-width="2.8"/><line x1="1158.0" x2="1158.0" y1="1416.5" y2="1565.2" stroke="#1a1a1a" stroke-width="2"/><rect x="1151.4" y="1472.7" width="13.2" height="37.0" fill="#f0a05a" stroke="#e6e6e6" stroke-width="1"/><line x1="1151.4" x2="1164.6" y1="1491.4" y2="1491.4" stroke="#fff" stroke-width="2.8"/><line x1="1183.7" x2="1183.7" y1="1343.7" y2="1517.4" stroke="#1a1a1a" stroke-width="2"/><path d="M1177.1,1413.8H1190.2V1435.5L1188.4,1442.5L1190.2,1449.5V1471.6H1177.1V1449.5L1178.9,1442.5L1177.1,1435.5Z" fill="#2e9a78" stroke="#e6e6e6" stroke-width="1"/><line x1="1177.9" x2="1189.4" y1="1442.5" y2="1442.5" stroke="#fff" stroke-width="2.8"/><line x1="1197.8" x2="1197.8" y1="1387.4" y2="1537.2" stroke="#1a1a1a" stroke-width="2"/><path d="M1191.2,1448.4H1204.4V1462.3L1202.6,1469.3L1204.4,1476.3V1489.8H1191.2V1476.3L1193.1,1469.3L1191.2,1462.3Z" fill="#f0a05a" stroke="#e6e6e6" stroke-width="1"/><line x1="1192.1" x2="1203.6" y1="1469.3" y2="1469.3" stroke="#fff" stroke-width="2.8"/><line x1="1223.5" x2="1223.5" y1="1330.5" y2="1601.1" stroke="#1a1a1a" stroke-width="2"/><rect x="1216.9" y="1444.7" width="13.2" height="78.0" fill="#2e9a78" stroke="#e6e6e6" stroke-width="1"/><line x1="1216.9" x2="1230.1" y1="1488.1" y2="1488.1" stroke="#fff" stroke-width="2.8"/><line x1="1237.7" x2="1237.7" y1="1413.2" y2="1602.2" stroke="#1a1a1a" stroke-width="2"/><rect x="1231.1" y="1487.6" width="13.2" height="48.5" fill="#f0a05a" stroke="#e6e6e6" stroke-width="1"/><line x1="1231.1" x2="1244.3" y1="1511.2" y2="1511.2" stroke="#fff" stroke-width="2.8"/><line x1="1263.4" x2="1263.4" y1="1343.7" y2="1548.2" stroke="#1a1a1a" stroke-width="2"/><path d="M1256.8,1422.0H1270.0V1452.4L1268.1,1459.4L1270.0,1466.4V1479.3H1256.8V1466.4L1258.6,1459.4L1256.8,1452.4Z" fill="#2e9a78" stroke="#e6e6e6" stroke-width="1"/><line x1="1257.6" x2="1269.1" y1="1459.4" y2="1459.4" stroke="#fff" stroke-width="2.8"/><line x1="1277.5" x2="1277.5" y1="1398.4" y2="1552.0" stroke="#1a1a1a" stroke-width="2"/><path d="M1271.0,1452.8H1284.1V1466.8L1282.3,1473.8L1284.1,1480.8V1491.8H1271.0V1480.8L1272.8,1473.8L1271.0,1466.8Z" fill="#f0a05a" stroke="#e6e6e6" stroke-width="1"/><line x1="1271.8" x2="1283.3" y1="1473.8" y2="1473.8" stroke="#fff" stroke-width="2.8"/><line x1="1303.2" x2="1303.2" y1="1347.7" y2="1603.3" stroke="#1a1a1a" stroke-width="2"/><rect x="1296.6" y="1461.0" width="13.2" height="77.1" fill="#2e9a78" stroke="#e6e6e6" stroke-width="1"/><line x1="1296.6" x2="1309.8" y1="1515.6" y2="1515.6" stroke="#fff" stroke-width="2.8"/><line x1="1317.4" x2="1317.4" y1="1444.7" y2="1606.4" stroke="#1a1a1a" stroke-width="2"/><rect x="1310.8" y="1507.9" width="13.2" height="41.4" fill="#f0a05a" stroke="#e6e6e6" stroke-width="1"/><line x1="1310.8" x2="1324.0" y1="1533.2" y2="1533.2" stroke="#fff" stroke-width="2.8"/><line x1="1343.1" x2="1343.1" y1="1428.6" y2="1568.5" stroke="#1a1a1a" stroke-width="2"/><path d="M1336.5,1483.0H1349.7V1491.0L1347.8,1498.0L1349.7,1505.0V1517.4H1336.5V1505.0L1338.3,1498.0L1336.5,1491.0Z" fill="#2e9a78" stroke="#e6e6e6" stroke-width="1"/><line x1="1337.3" x2="1348.8" y1="1498.0" y2="1498.0" stroke="#fff" stroke-width="2.8"/><line x1="1357.2" x2="1357.2" y1="1456.8" y2="1552.0" stroke="#1a1a1a" stroke-width="2"/><path d="M1350.7,1495.8H1363.8V1508.6L1362.0,1515.6L1363.8,1522.6V1541.6H1350.7V1522.6L1352.5,1515.6L1350.7,1508.6Z" fill="#f0a05a" stroke="#e6e6e6" stroke-width="1"/><line x1="1351.5" x2="1363.0" y1="1515.6" y2="1515.6" stroke="#fff" stroke-width="2.8"/><line x1="1382.9" x2="1382.9" y1="1358.0" y2="1603.8" stroke="#1a1a1a" stroke-width="2"/><path d="M1376.3,1449.5H1389.5V1478.9L1387.7,1485.9L1389.5,1492.9V1531.5H1376.3V1492.9L1378.1,1485.9L1376.3,1478.9Z" fill="#2e9a78" stroke="#e6e6e6" stroke-width="1"/><line x1="1377.1" x2="1388.7" y1="1485.9" y2="1485.9" stroke="#fff" stroke-width="2.8"/><line x1="1397.1" x2="1397.1" y1="1422.6" y2="1611.5" stroke="#1a1a1a" stroke-width="2"/><path d="M1390.5,1496.2H1403.7V1514.1L1401.9,1521.1L1403.7,1528.1V1545.4H1390.5V1528.1L1392.3,1521.1L1390.5,1514.1Z" fill="#f0a05a" stroke="#e6e6e6" stroke-width="1"/><line x1="1391.3" x2="1402.9" y1="1521.1" y2="1521.1" stroke="#fff" stroke-width="2.8"/><line x1="1422.8" x2="1422.8" y1="1349.2" y2="1596.7" stroke="#1a1a1a" stroke-width="2"/><path d="M1416.2,1449.5H1429.3V1480.0L1427.5,1487.0L1429.3,1494.0V1520.0H1416.2V1494.0L1418.0,1487.0L1416.2,1480.0Z" fill="#2e9a78" stroke="#e6e6e6" stroke-width="1"/><line x1="1417.0" x2="1428.5" y1="1487.0" y2="1487.0" stroke="#fff" stroke-width="2.8"/><line x1="1436.9" x2="1436.9" y1="1405.9" y2="1602.2" stroke="#1a1a1a" stroke-width="2"/><rect x="1430.3" y="1488.7" width="13.2" height="52.9" fill="#f0a05a" stroke="#e6e6e6" stroke-width="1"/><line x1="1430.3" x2="1443.5" y1="1513.4" y2="1513.4" stroke="#fff" stroke-width="2.8"/>
<path d="M968.4,1271V1636.9H1453.2" fill="none" stroke="#111" stroke-width="2.2"/>
<line x1="963" x2="968.4" y1="1311.8" y2="1311.8" stroke="#111" stroke-width="2"/><text x="960.6" y="1320.4" font-size="25" text-anchor="end" >0.6</text><line x1="963" x2="968.4" y1="1414.9" y2="1414.9" stroke="#111" stroke-width="2"/><text x="960.6" y="1423.5" font-size="25" text-anchor="end" >0.3</text><line x1="963" x2="968.4" y1="1517.9" y2="1517.9" stroke="#111" stroke-width="2"/><text x="960.6" y="1526.5" font-size="25" text-anchor="end" >0.0</text><line x1="963" x2="968.4" y1="1620.8" y2="1620.8" stroke="#111" stroke-width="2"/><text x="960.6" y="1629.4" font-size="25" text-anchor="end" >-0.3</text><line x1="991.0" x2="991.0" y1="1636.9" y2="1641.5" stroke="#111" stroke-width="2"/><text transform="translate(1003.0,1646.4) rotate(-90)" text-anchor="end" font-size="26.7">ZG</text><line x1="1030.8" x2="1030.8" y1="1636.9" y2="1641.5" stroke="#111" stroke-width="2"/><text transform="translate(1042.8,1646.4) rotate(-90)" text-anchor="end" font-size="26.7">Transitional cell</text><line x1="1070.7" x2="1070.7" y1="1636.9" y2="1641.5" stroke="#111" stroke-width="2"/><text transform="translate(1082.7,1646.4) rotate(-90)" text-anchor="end" font-size="26.7">ZF</text><line x1="1110.5" x2="1110.5" y1="1636.9" y2="1641.5" stroke="#111" stroke-width="2"/><text transform="translate(1122.5,1646.4) rotate(-90)" text-anchor="end" font-size="26.7">ZR</text><line x1="1150.4" x2="1150.4" y1="1636.9" y2="1641.5" stroke="#111" stroke-width="2"/><text transform="translate(1162.4,1646.4) rotate(-90)" text-anchor="end" font-size="26.7">Chromaffin cell</text><line x1="1190.2" x2="1190.2" y1="1636.9" y2="1641.5" stroke="#111" stroke-width="2"/><text transform="translate(1202.2,1646.4) rotate(-90)" text-anchor="end" font-size="26.7">Neuron</text><line x1="1230.1" x2="1230.1" y1="1636.9" y2="1641.5" stroke="#111" stroke-width="2"/><text transform="translate(1242.1,1646.4) rotate(-90)" text-anchor="end" font-size="26.7">FB</text><line x1="1270.0" x2="1270.0" y1="1636.9" y2="1641.5" stroke="#111" stroke-width="2"/><text transform="translate(1282.0,1646.4) rotate(-90)" text-anchor="end" font-size="26.7">SMC</text><line x1="1309.8" x2="1309.8" y1="1636.9" y2="1641.5" stroke="#111" stroke-width="2"/><text transform="translate(1321.8,1646.4) rotate(-90)" text-anchor="end" font-size="26.7">EC</text><line x1="1349.7" x2="1349.7" y1="1636.9" y2="1641.5" stroke="#111" stroke-width="2"/><text transform="translate(1361.7,1646.4) rotate(-90)" text-anchor="end" font-size="26.7">Adi</text><line x1="1389.5" x2="1389.5" y1="1636.9" y2="1641.5" stroke="#111" stroke-width="2"/><text transform="translate(1401.5,1646.4) rotate(-90)" text-anchor="end" font-size="26.7">TC</text><line x1="1429.3" x2="1429.3" y1="1636.9" y2="1641.5" stroke="#111" stroke-width="2"/><text transform="translate(1441.3,1646.4) rotate(-90)" text-anchor="end" font-size="26.7">Mac</text>
<text transform="translate(905,1430) rotate(-90)" text-anchor="middle" font-size="27.5">Gene set score</text>
<text transform="translate(995.5,1268.5) rotate(-45)" font-size="27">P<tspan dx="4">&lt;</tspan><tspan dx="3">2.2×10</tspan><tspan font-size="18.5" dy="-12" dx="0.5">-16</tspan></text><text transform="translate(1035.3,1268.5) rotate(-45)" font-size="27">P<tspan dx="4">&lt;</tspan><tspan dx="3">2.2×10</tspan><tspan font-size="18.5" dy="-12" dx="0.5">-16</tspan></text><text transform="translate(1075.2,1268.5) rotate(-45)" font-size="27">P<tspan dx="4">&lt;</tspan><tspan dx="3">2.2×10</tspan><tspan font-size="18.5" dy="-12" dx="0.5">-16</tspan></text><text transform="translate(1115.0,1268.5) rotate(-45)" font-size="27">P<tspan dx="4">&lt;</tspan><tspan dx="3">2.2×10</tspan><tspan font-size="18.5" dy="-12" dx="0.5">-16</tspan></text><text transform="translate(1154.9,1268.5) rotate(-45)" font-size="27">P<tspan dx="4">&lt;</tspan><tspan dx="3">2.2×10</tspan><tspan font-size="18.5" dy="-12" dx="0.5">-16</tspan></text><text transform="translate(1194.8,1268.5) rotate(-45)" font-size="27">P<tspan dx="4">=</tspan><tspan dx="3">7.2×10</tspan><tspan font-size="18.5" dy="-12" dx="0.5">-8</tspan></text><text transform="translate(1234.6,1268.5) rotate(-45)" font-size="27">P<tspan dx="4">&lt;</tspan><tspan dx="3">2.2×10</tspan><tspan font-size="18.5" dy="-12" dx="0.5">-16</tspan></text><text transform="translate(1274.5,1268.5) rotate(-45)" font-size="27">P<tspan dx="4">=</tspan><tspan dx="3">2.0×10</tspan><tspan font-size="18.5" dy="-12" dx="0.5">-6</tspan></text><text transform="translate(1314.3,1268.5) rotate(-45)" font-size="27">P<tspan dx="4">&lt;</tspan><tspan dx="3">2.2×10</tspan><tspan font-size="18.5" dy="-12" dx="0.5">-16</tspan></text><text transform="translate(1354.2,1268.5) rotate(-45)" font-size="27">P<tspan dx="4">=</tspan><tspan dx="3">0.0963</tspan></text><text transform="translate(1394.0,1268.5) rotate(-45)" font-size="27">P<tspan dx="4">&lt;</tspan><tspan dx="3">2.2×10</tspan><tspan font-size="18.5" dy="-12" dx="0.5">-16</tspan></text><text transform="translate(1433.8,1268.5) rotate(-45)" font-size="27">P<tspan dx="4">&lt;</tspan><tspan dx="3">2.2×10</tspan><tspan font-size="18.5" dy="-12" dx="0.5">-16</tspan></text>
<text x="1605.6" y="1128.9" font-size="27.5" style="letter-spacing:0.2px">The enriched pathways of <tspan font-style="italic">CREM</tspan> target</text>
<text x="1605.6" y="1161.4" font-size="27.55" >downregulated genes</text>
<rect x="1580" y="1202.5" width="537.3" height="56.3" fill="#3b6db4"/><rect x="1580" y="1319.9" width="368.2" height="56.3" fill="#3b6db4"/><rect x="1580" y="1438.8" width="259.9" height="56.3" fill="#3b6db4"/><rect x="1580" y="1557.6" width="226.9" height="56.3" fill="#3b6db4"/><rect x="1580" y="1677.2" width="154.5" height="56.3" fill="#3b6db4"/><text x="1586.3" y="1235.7" font-size="27.9" >Response to corticotropin-releasing hormone</text><text x="1586.3" y="1284.5" font-size="28">(<tspan font-style="italic" fill="#3f6aaa">NR4A1, NR4A2, NR4A3</tspan>)</text><text x="1586.3" y="1356.6" font-size="27.9" >Circadian rhythm genes</text><text x="1586.3" y="1404.7" font-size="28">(<tspan font-style="italic" fill="#3f6aaa">ARNT, EGR1, NFIL3, PER1, BTBD9</tspan>)</text><text x="1586.3" y="1478.0" font-size="27.9" >Steroid biosynthetic process</text><text x="1586.3" y="1522.5" font-size="28">(<tspan font-style="italic" fill="#3f6aaa">CYP51A1, IDI1, INSIG1, OSBPL6</tspan>)</text><text x="1586.3" y="1595.2" font-size="27.9" >Chromatin organization</text><text x="1586.3" y="1639.8" font-size="28">(<tspan font-style="italic" fill="#3f6aaa">PSME4, BAZ2B, USP36, PCGF5, JDP2</tspan>)</text><text x="1586.3" y="1716.1" font-size="27.9" >Regulation of transmembrane transport</text><text x="1589.9" y="1758.4" font-size="28">(<tspan font-style="italic" fill="#3f6aaa">ATP1B1, RGS2, TRPC1, UTRN, NR4A3</tspan>)</text><rect x="1580" y="1185.2" width="581" height="593.3999999999999" fill="none" stroke="#111" stroke-width="2"/><line x1="1580.0" y1="1778.6" x2="1580.0" y2="1785.6" stroke="#111" stroke-width="2"/><text x="1580.0" y="1808.6" font-size="27" text-anchor="middle" >0</text><line x1="1726.4" y1="1778.6" x2="1726.4" y2="1785.6" stroke="#111" stroke-width="2"/><text x="1726.4" y="1808.6" font-size="27" text-anchor="middle" >2</text><line x1="1872.8" y1="1778.6" x2="1872.8" y2="1785.6" stroke="#111" stroke-width="2"/><text x="1872.8" y="1808.6" font-size="27" text-anchor="middle" >4</text><line x1="2019.2" y1="1778.6" x2="2019.2" y2="1785.6" stroke="#111" stroke-width="2"/><text x="2019.2" y="1808.6" font-size="27" text-anchor="middle" >6</text>
<text x="1826.8" y="1836.5" font-size="27">-Log<tspan font-size="15.1" dy="8" dx="1">10</tspan><tspan dy="-8" dx="3" font-style="italic" font-size="28.6">P</tspan></text></g></svg>
</body></html>
